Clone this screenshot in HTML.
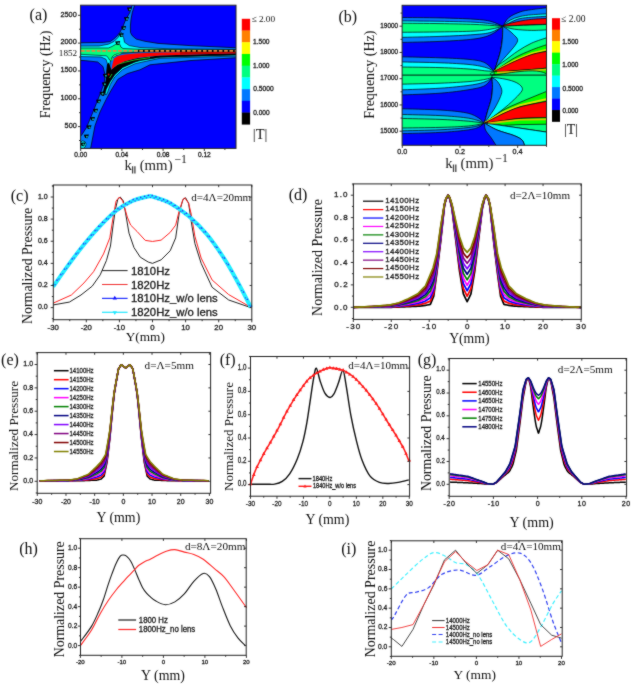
<!DOCTYPE html>
<html><head><meta charset="utf-8"><style>
html,body{margin:0;padding:0;background:#fff;width:633px;height:685px;overflow:hidden}
svg{display:block} text[font-family='Liberation Sans']{stroke:#222;stroke-width:0.3px}
</style></head><body><div id="w">
<svg xmlns="http://www.w3.org/2000/svg" width="633" height="685" viewBox="0 0 633 685">
<defs><filter id="bl" x="0" y="0" width="100%" height="100%" color-interpolation-filters="sRGB"><feConvolveMatrix order="3" kernelMatrix="1 2 1 2 20 2 1 2 1" divisor="32" edgeMode="duplicate"/></filter></defs>
<g filter="url(#bl)"><rect width="633" height="685" fill="#fff"/>
<path d="M53.2 304.95 L69.42 302.07 L81 294.99 L92.26 286.14 L100.2 274.86 L106.49 260.37 L110.46 246 L113.11 225.09 L115.43 209.17 L117.75 199.43 L120.23 197 L123.37 200.98 L125.69 213.92 L129 233.17 L133.96 247.54 L140.25 257.17 L148.2 262.03 L152.5 263.36 L161.11 259.82 L170.21 250.75 L175.67 237.92 L179.31 212.48 L182.95 199.54 L185.6 197.77 L188.58 203.19 L191.23 221.55 L194.87 243.45 L201.16 263.36 L212.08 287.25 L228.63 299.97 L250.81 307.6" stroke="#222" stroke-width="1.0" fill="none" stroke-linejoin="round" opacity="1"/>
<path d="M53.2 303.18 L71.41 294.99 L83.98 282.94 L93.58 271.66 L103.51 253.96 L109.8 237.92 L113.11 217.13 L116.09 200.98 L119.4 197 L122.71 200.98 L127.34 217.13 L130.65 225.09 L137.11 231.51 L145.22 240.36 L152.5 241.46 L161.11 240.13 L170.21 232.39 L175.67 225.09 L179.31 210.49 L182.95 199.54 L184.61 197.77 L188.58 203.19 L191.23 214.14 L194.87 236.15 L201.16 258.05 L212.08 279.95 L228.63 294.55 L250.81 307.27" stroke="#ff2020" stroke-width="1.0" fill="none" stroke-linejoin="round" opacity="1"/>
<path d="M53.2 286.59 C55.68 283.05 62.96 272.37 68.09 265.35 C73.23 258.33 78.63 251.03 83.98 244.45 C89.33 237.87 94.85 231.49 100.2 225.87 C105.55 220.24 110.74 214.86 116.09 210.71 C121.44 206.57 126.96 203.34 132.31 200.98 C137.66 198.62 144.83 197.28 148.2 196.56 C151.56 195.84 148.83 195.56 152.5 196.67 C156.17 197.77 164.2 199.97 170.21 203.19 C176.22 206.42 182.48 210.84 188.58 216.02 C194.67 221.2 200.72 226.97 206.78 234.27 C212.85 241.57 219.53 251.29 224.99 259.82 C230.45 268.36 235.25 277.57 239.55 285.48 C243.86 293.39 248.93 303.64 250.81 307.27" stroke="#20f0ff" stroke-width="4.0" fill="none" stroke-linejoin="round" opacity="1"/>
<path d="M53.2 284.19L54.28 286.11L52.12 286.11ZM57.01 278.76L58.09 280.68L55.93 280.68ZM60.81 273.33L61.89 275.25L59.73 275.25ZM64.62 267.91L65.7 269.83L63.54 269.83ZM68.43 262.52L69.51 264.44L67.35 264.44ZM72.23 257.51L73.31 259.43L71.15 259.43ZM76.04 252.5L77.12 254.42L74.96 254.42ZM79.85 247.49L80.93 249.41L78.77 249.41ZM83.65 242.48L84.73 244.4L82.57 244.4ZM87.46 238.07L88.54 239.99L86.38 239.99ZM91.26 233.71L92.34 235.63L90.18 235.63ZM95.07 229.34L96.15 231.26L93.99 231.26ZM98.88 224.98L99.96 226.9L97.8 226.9ZM102.68 221.1L103.76 223.02L101.6 223.02ZM106.49 217.47L107.57 219.39L105.41 219.39ZM110.3 213.84L111.38 215.76L109.22 215.76ZM114.1 210.21L115.18 212.13L113.02 212.13ZM117.91 207.22L118.99 209.14L116.83 209.14ZM121.72 204.94L122.8 206.86L120.64 206.86ZM125.52 202.65L126.6 204.57L124.44 204.57ZM129.33 200.37L130.41 202.29L128.25 202.29ZM133.14 198.35L134.22 200.27L132.06 200.27ZM136.94 197.29L138.02 199.21L135.86 199.21ZM140.75 196.23L141.83 198.15L139.67 198.15ZM144.56 195.17L145.64 197.09L143.48 197.09ZM148.36 194.16L149.44 196.08L147.28 196.08ZM152.17 194.26L153.25 196.18L151.09 196.18ZM155.98 195.55L157.06 197.47L154.9 197.47ZM159.78 196.95L160.86 198.87L158.7 198.87ZM163.59 198.35L164.67 200.27L162.51 200.27ZM167.39 199.76L168.47 201.68L166.31 201.68ZM171.2 201.49L172.28 203.41L170.12 203.41ZM175.01 204.15L176.09 206.07L173.93 206.07ZM178.81 206.8L179.89 208.72L177.73 208.72ZM182.62 209.46L183.7 211.38L181.54 211.38ZM186.43 212.12L187.51 214.04L185.35 214.04ZM190.23 215.28L191.31 217.2L189.15 217.2ZM194.04 219.1L195.12 221.02L192.96 221.02ZM197.85 222.91L198.93 224.83L196.77 224.83ZM201.65 226.73L202.73 228.65L200.57 228.65ZM205.46 230.54L206.54 232.46L204.38 232.46ZM209.27 235.36L210.35 237.28L208.19 237.28ZM213.07 240.7L214.15 242.62L211.99 242.62ZM216.88 246.04L217.96 247.96L215.8 247.96ZM220.69 251.38L221.77 253.3L219.61 253.3ZM224.49 256.72L225.57 258.64L223.41 258.64ZM228.3 263.25L229.38 265.17L227.22 265.17ZM232.11 269.96L233.19 271.88L231.03 271.88ZM235.91 276.67L236.99 278.59L234.83 278.59ZM239.72 283.4L240.8 285.32L238.64 285.32ZM243.52 290.77L244.6 292.69L242.44 292.69ZM247.33 298.14L248.41 300.06L246.25 300.06ZM251.14 304.87L252.22 306.79L250.06 306.79Z" fill="#2a2aff"/>
<path d="M55.19 285.7L56.13 284.02L54.24 284.02ZM58.99 280.28L59.94 278.6L58.05 278.6ZM62.8 274.85L63.74 273.17L61.85 273.17ZM66.61 269.42L67.55 267.74L65.66 267.74ZM70.41 264.25L71.36 262.57L69.47 262.57ZM74.22 259.24L75.16 257.56L73.27 257.56ZM78.02 254.24L78.97 252.56L77.08 252.56ZM81.83 249.23L82.78 247.55L80.89 247.55ZM85.64 244.5L86.58 242.82L84.69 242.82ZM89.44 240.14L90.39 238.46L88.5 238.46ZM93.25 235.78L94.2 234.1L92.31 234.1ZM97.06 231.42L98 229.74L96.11 229.74ZM100.86 227.19L101.81 225.51L99.92 225.51ZM104.67 223.56L105.62 221.88L103.73 221.88ZM108.48 219.92L109.42 218.24L107.53 218.24ZM112.28 216.29L113.23 214.61L111.34 214.61ZM116.09 212.66L117.03 210.98L115.14 210.98ZM119.9 210.38L120.84 208.7L118.95 208.7ZM123.7 208.1L124.65 206.42L122.76 206.42ZM127.51 205.81L128.45 204.13L126.56 204.13ZM131.32 203.53L132.26 201.85L130.37 201.85ZM135.12 202.15L136.07 200.47L134.18 200.47ZM138.93 201.09L139.87 199.41L137.98 199.41ZM142.74 200.03L143.68 198.35L141.79 198.35ZM146.54 198.97L147.49 197.29L145.6 197.29ZM150.35 198.56L151.29 196.88L149.4 196.88ZM154.15 199.23L155.1 197.55L153.21 197.55ZM157.96 200.63L158.91 198.95L157.02 198.95ZM161.77 202.03L162.71 200.35L160.82 200.35ZM165.57 203.44L166.52 201.76L164.63 201.76ZM169.38 204.84L170.33 203.16L168.44 203.16ZM173.19 207.22L174.13 205.54L172.24 205.54ZM176.99 209.88L177.94 208.2L176.05 208.2ZM180.8 212.54L181.75 210.86L179.86 210.86ZM184.61 215.2L185.55 213.52L183.66 213.52ZM188.41 217.86L189.36 216.18L187.47 216.18ZM192.22 221.62L193.16 219.94L191.27 219.94ZM196.03 225.44L196.97 223.76L195.08 223.76ZM199.83 229.25L200.78 227.57L198.89 227.57ZM203.64 233.07L204.58 231.39L202.69 231.39ZM207.45 237.15L208.39 235.47L206.5 235.47ZM211.25 242.49L212.2 240.81L210.31 240.81ZM215.06 247.84L216 246.16L214.11 246.16ZM218.87 253.18L219.81 251.5L217.92 251.5ZM222.67 258.52L223.62 256.84L221.73 256.84ZM226.48 264.4L227.42 262.72L225.53 262.72ZM230.28 271.1L231.23 269.42L229.34 269.42ZM234.09 277.81L235.04 276.13L233.15 276.13ZM237.9 284.51L238.84 282.83L236.95 282.83ZM241.7 291.6L242.65 289.92L240.76 289.92ZM245.51 298.96L246.46 297.28L244.57 297.28ZM249.32 306.33L250.26 304.65L248.37 304.65Z" fill="#3030ff" opacity="0.8"/>
<rect x="53.3" y="185" width="198.5" height="134.7" fill="none" stroke="#222" stroke-width="1"/>
<path d="M53.2 319.7v2.6M53.2 185v2.2M86.3 319.7v2.6M86.3 185v2.2M119.4 319.7v2.6M119.4 185v2.2M152.5 319.7v2.6M152.5 185v2.2M185.6 319.7v2.6M185.6 185v2.2M218.7 319.7v2.6M218.7 185v2.2M251.8 319.7v2.6M251.8 185v2.2M69.75 319.7v1.5M102.85 319.7v1.5M135.95 319.7v1.5M169.05 319.7v1.5M202.15 319.7v1.5M235.25 319.7v1.5M53.3 307.6h-2.6M251.8 307.6h-2.2M53.3 285.48h-2.6M251.8 285.48h-2.2M53.3 263.36h-2.6M251.8 263.36h-2.2M53.3 241.24h-2.6M251.8 241.24h-2.2M53.3 219.12h-2.6M251.8 219.12h-2.2M53.3 197h-2.6M251.8 197h-2.2M53.3 318.66h-1.5M53.3 296.54h-1.5M53.3 274.42h-1.5M53.3 252.3h-1.5M53.3 230.18h-1.5M53.3 208.06h-1.5M53.3 185.94h-1.5" stroke="#222" stroke-width="0.9" fill="none"/>
<text transform="translate(47.55 329.8) scale(1.05 1)" font-family="Liberation Sans" font-size="7.4" fill="#222">-30</text>
<text transform="translate(80.65 329.8) scale(1.05 1)" font-family="Liberation Sans" font-size="7.4" fill="#222">-20</text>
<text transform="translate(113.75 329.8) scale(1.05 1)" font-family="Liberation Sans" font-size="7.4" fill="#222">-10</text>
<text transform="translate(150.32 329.8) scale(1.05 1)" font-family="Liberation Sans" font-size="7.4" fill="#222">0</text>
<text transform="translate(181.13 329.8) scale(1.05 1)" font-family="Liberation Sans" font-size="7.4" fill="#222">10</text>
<text transform="translate(214.33 329.8) scale(1.05 1)" font-family="Liberation Sans" font-size="7.4" fill="#222">20</text>
<text transform="translate(247.47 329.8) scale(1.05 1)" font-family="Liberation Sans" font-size="7.4" fill="#222">30</text>
<text x="37.91" y="309.12" font-family="Liberation Sans" font-size="7.0" fill="#222">0.0</text>
<text x="38.02" y="287" font-family="Liberation Sans" font-size="7.0" fill="#222">0.2</text>
<text x="37.88" y="264.88" font-family="Liberation Sans" font-size="7.0" fill="#222">0.4</text>
<text x="37.95" y="242.75" font-family="Liberation Sans" font-size="7.0" fill="#222">0.6</text>
<text x="37.95" y="220.63" font-family="Liberation Sans" font-size="7.0" fill="#222">0.8</text>
<text x="37.91" y="198.51" font-family="Liberation Sans" font-size="7.0" fill="#222">1.0</text>
<text x="31.61" y="324.01" font-family="Liberation Serif" font-size="13.91" fill="#111" transform="rotate(-90 31.61 324.01)">Normalized Pressure</text>
<text x="125.67" y="340.55" font-family="Liberation Serif" font-size="13.32" fill="#111">Y(mm)</text>
<text x="10.72" y="201.04" font-family="Liberation Serif" font-size="16" fill="#111">(c)</text>
<text x="191.26" y="200.5" font-family="Liberation Serif" font-size="11.1" fill="#111">d=4Λ=20mm</text>
<path d="M102 270.6H127.6" stroke="#222" stroke-width="1"/>
<text x="131" y="274.6" font-family="Liberation Sans" font-size="11.3" text-anchor="start" fill="#111">1810Hz</text>
<path d="M102 284.5H127.6" stroke="#f03030" stroke-width="1"/>
<text x="131" y="288.5" font-family="Liberation Sans" font-size="11.3" text-anchor="start" fill="#111">1820Hz</text>
<path d="M102 298.4H127.6" stroke="#2030ff" stroke-width="1.2"/>
<path d="M114.8 295.7L116.96 299.54L112.64 299.54Z" fill="#1010ff"/>
<text x="131" y="302.4" font-family="Liberation Sans" font-size="11.3" text-anchor="start" fill="#111">1810Hz_w/o lens</text>
<path d="M102 312.3H127.6" stroke="#20e8ff" stroke-width="1.2"/>
<path d="M114.8 315L116.96 311.16L112.64 311.16Z" fill="#20e8ff"/>
<text x="131" y="316.3" font-family="Liberation Sans" font-size="11.3" text-anchor="start" fill="#111">1820Hz_w/o lens</text>
<path d="M353.3 307.3 L355.2 307.3 L357.1 307.3 L358.99 307.3 L360.89 307.3 L362.79 307.3 L364.69 307.3 L366.58 307.3 L368.48 307.3 L370.38 307.3 L372.28 307.3 L374.17 307.3 L376.07 307.3 L377.97 307.3 L379.87 307.3 L381.76 307.3 L383.66 307.3 L385.56 307.3 L387.45 307.3 L389.35 307.3 L391.25 307.3 L393.15 307.23 L395.05 307.17 L396.94 307.1 L398.84 307.03 L400.74 306.96 L402.63 306.9 L404.53 306.83 L406.43 306.76 L408.33 306.69 L410.23 306.63 L412.12 306.52 L414.02 306.4 L415.92 306.29 L417.81 306.18 L419.71 306.07 L421.61 305.95 L423.51 305.64 L425.41 305.32 L427.3 305 L429.2 304.69 L430.34 304.5 L431.1 302.63 L433 297.96 L433.75 296.09 L434.89 287.68 L436.79 273.67 L438.69 257.98 L440.59 242.28 L442.48 224.35 L444.38 206.41 L445.9 199.68 L446.28 198.94 L448.18 195.2 L449.69 198.56 L450.07 200.24 L451.97 208.65 L453.87 224.35 L455.76 240.04 L457.66 255.73 L459.56 271.43 L461.46 282.64 L463.36 293.85 L465.25 297.77 L467.15 301.69 L469.05 297.77 L470.94 293.85 L472.84 282.64 L474.74 271.43 L476.64 255.73 L478.53 240.04 L480.43 224.35 L482.33 208.65 L484.23 200.24 L484.61 198.56 L486.12 195.2 L488.02 198.94 L488.4 199.68 L489.92 206.41 L491.82 224.35 L493.72 242.28 L495.61 257.98 L497.51 273.67 L499.41 287.68 L500.55 296.09 L501.31 297.96 L503.2 302.63 L503.96 304.5 L505.1 304.69 L507 305 L508.89 305.32 L510.79 305.64 L512.69 305.95 L514.59 306.07 L516.49 306.18 L518.38 306.29 L520.28 306.4 L522.18 306.52 L524.08 306.63 L525.97 306.69 L527.87 306.76 L529.77 306.83 L531.66 306.9 L533.56 306.96 L535.46 307.03 L537.36 307.1 L539.25 307.17 L541.15 307.23 L543.05 307.3 L544.95 307.3 L546.85 307.3 L548.74 307.3 L550.64 307.3 L552.54 307.3 L554.43 307.3 L556.33 307.3 L558.23 307.3 L560.13 307.3 L562.02 307.3 L563.92 307.3 L565.82 307.3 L567.72 307.3 L569.62 307.3 L571.51 307.3 L573.41 307.3 L575.31 307.3 L577.21 307.3 L579.1 307.3 L581 307.3" stroke="#000000" stroke-width="1.7" fill="none" stroke-linejoin="round" opacity="1"/>
<path d="M353.3 307.3 L355.2 307.29 L357.1 307.28 L358.99 307.27 L360.89 307.26 L362.79 307.25 L364.69 307.24 L366.58 307.23 L368.48 307.22 L370.38 307.21 L372.28 307.2 L374.17 307.18 L376.07 307.17 L377.97 307.15 L379.87 307.13 L381.76 307.12 L383.66 307.1 L385.56 307.08 L387.45 307.07 L389.35 307.05 L391.25 307 L393.15 306.89 L395.05 306.78 L396.94 306.67 L398.84 306.56 L400.74 306.41 L402.63 306.26 L404.53 306.11 L406.43 305.96 L408.33 305.82 L410.23 305.65 L412.12 305.44 L414.02 305.23 L415.92 305.02 L417.81 304.81 L419.71 304.49 L421.61 304.17 L423.51 303.67 L425.41 303.17 L427.3 302.39 L429.2 301.61 L430.34 301.15 L431.1 299.29 L433 294.64 L433.75 292.65 L434.89 284.69 L436.79 271.43 L438.69 255.98 L440.59 240.54 L442.48 223.35 L444.38 206.16 L445.9 199.56 L446.28 198.83 L448.18 195.2 L449.69 198.44 L450.07 200.06 L451.97 208.15 L453.87 223.04 L455.76 237.92 L457.66 252.74 L459.56 267.57 L461.46 278.15 L463.36 288.74 L465.25 292.48 L467.15 296.21 L469.05 292.48 L470.94 288.74 L472.84 278.15 L474.74 267.57 L476.64 252.74 L478.53 237.92 L480.43 223.04 L482.33 208.15 L484.23 200.06 L484.61 198.44 L486.12 195.2 L488.02 198.83 L488.4 199.56 L489.92 206.16 L491.82 223.35 L493.72 240.54 L495.61 255.98 L497.51 271.43 L499.41 284.69 L500.55 292.65 L501.31 294.64 L503.2 299.29 L503.96 301.15 L505.1 301.61 L507 302.39 L508.89 303.17 L510.79 303.67 L512.69 304.17 L514.59 304.49 L516.49 304.81 L518.38 305.02 L520.28 305.23 L522.18 305.44 L524.08 305.65 L525.97 305.82 L527.87 305.96 L529.77 306.11 L531.66 306.26 L533.56 306.41 L535.46 306.56 L537.36 306.67 L539.25 306.78 L541.15 306.89 L543.05 307 L544.95 307.05 L546.85 307.07 L548.74 307.08 L550.64 307.1 L552.54 307.12 L554.43 307.13 L556.33 307.15 L558.23 307.17 L560.13 307.18 L562.02 307.2 L563.92 307.21 L565.82 307.22 L567.72 307.23 L569.62 307.24 L571.51 307.25 L573.41 307.26 L575.31 307.27 L577.21 307.28 L579.1 307.29 L581 307.3" stroke="#ff0000" stroke-width="1.7" fill="none" stroke-linejoin="round" opacity="1"/>
<path d="M353.3 307.3 L355.2 307.28 L357.1 307.26 L358.99 307.24 L360.89 307.22 L362.79 307.2 L364.69 307.18 L366.58 307.16 L368.48 307.14 L370.38 307.12 L372.28 307.1 L374.17 307.07 L376.07 307.03 L377.97 307 L379.87 306.97 L381.76 306.93 L383.66 306.9 L385.56 306.87 L387.45 306.83 L389.35 306.8 L391.25 306.7 L393.15 306.55 L395.05 306.4 L396.94 306.25 L398.84 306.09 L400.74 305.86 L402.63 305.63 L404.53 305.4 L406.43 305.17 L408.33 304.94 L410.23 304.66 L412.12 304.36 L414.02 304.05 L415.92 303.75 L417.81 303.44 L419.71 302.92 L421.61 302.39 L423.51 301.71 L425.41 301.03 L427.3 299.78 L429.2 298.54 L430.34 297.8 L431.1 295.94 L433 291.32 L433.75 289.21 L434.89 281.7 L436.79 269.19 L438.69 253.99 L440.59 238.79 L442.48 222.35 L444.38 205.91 L445.9 199.43 L446.28 198.73 L448.18 195.2 L449.69 198.31 L450.07 199.87 L451.97 207.66 L453.87 221.73 L455.76 235.81 L457.66 249.76 L459.56 263.71 L461.46 273.67 L463.36 283.63 L465.25 287.18 L467.15 290.73 L469.05 287.18 L470.94 283.63 L472.84 273.67 L474.74 263.71 L476.64 249.76 L478.53 235.81 L480.43 221.73 L482.33 207.66 L484.23 199.87 L484.61 198.31 L486.12 195.2 L488.02 198.73 L488.4 199.43 L489.92 205.91 L491.82 222.35 L493.72 238.79 L495.61 253.99 L497.51 269.19 L499.41 281.7 L500.55 289.21 L501.31 291.32 L503.2 295.94 L503.96 297.8 L505.1 298.54 L507 299.78 L508.89 301.03 L510.79 301.71 L512.69 302.39 L514.59 302.92 L516.49 303.44 L518.38 303.75 L520.28 304.05 L522.18 304.36 L524.08 304.66 L525.97 304.94 L527.87 305.17 L529.77 305.4 L531.66 305.63 L533.56 305.86 L535.46 306.09 L537.36 306.25 L539.25 306.4 L541.15 306.55 L543.05 306.7 L544.95 306.8 L546.85 306.83 L548.74 306.87 L550.64 306.9 L552.54 306.93 L554.43 306.97 L556.33 307 L558.23 307.03 L560.13 307.07 L562.02 307.1 L563.92 307.12 L565.82 307.14 L567.72 307.16 L569.62 307.18 L571.51 307.2 L573.41 307.22 L575.31 307.24 L577.21 307.26 L579.1 307.28 L581 307.3" stroke="#0000ff" stroke-width="1.7" fill="none" stroke-linejoin="round" opacity="1"/>
<path d="M353.3 307.3 L355.2 307.27 L357.1 307.24 L358.99 307.21 L360.89 307.18 L362.79 307.15 L364.69 307.12 L366.58 307.09 L368.48 307.06 L370.38 307.03 L372.28 307 L374.17 306.95 L376.07 306.9 L377.97 306.85 L379.87 306.8 L381.76 306.75 L383.66 306.7 L385.56 306.65 L387.45 306.6 L389.35 306.55 L391.25 306.4 L393.15 306.21 L395.05 306.01 L396.94 305.82 L398.84 305.63 L400.74 305.31 L402.63 305 L404.53 304.68 L406.43 304.37 L408.33 304.06 L410.23 303.68 L412.12 303.28 L414.02 302.88 L415.92 302.47 L417.81 302.07 L419.71 301.34 L421.61 300.61 L423.51 299.75 L425.41 298.88 L427.3 297.18 L429.2 295.47 L430.34 294.45 L431.1 292.6 L433 287.99 L433.75 285.78 L434.89 278.71 L436.79 266.94 L438.69 252 L440.59 237.05 L442.48 221.36 L444.38 205.66 L445.9 199.31 L446.28 198.63 L448.18 195.2 L449.69 198.19 L450.07 199.68 L451.97 207.16 L453.87 220.42 L455.76 233.69 L457.66 246.77 L459.56 259.84 L461.46 269.19 L463.36 278.53 L465.25 281.89 L467.15 285.25 L469.05 281.89 L470.94 278.53 L472.84 269.19 L474.74 259.84 L476.64 246.77 L478.53 233.69 L480.43 220.42 L482.33 207.16 L484.23 199.68 L484.61 198.19 L486.12 195.2 L488.02 198.63 L488.4 199.31 L489.92 205.66 L491.82 221.36 L493.72 237.05 L495.61 252 L497.51 266.94 L499.41 278.71 L500.55 285.78 L501.31 287.99 L503.2 292.6 L503.96 294.45 L505.1 295.47 L507 297.18 L508.89 298.88 L510.79 299.75 L512.69 300.61 L514.59 301.34 L516.49 302.07 L518.38 302.47 L520.28 302.88 L522.18 303.28 L524.08 303.68 L525.97 304.06 L527.87 304.37 L529.77 304.68 L531.66 305 L533.56 305.31 L535.46 305.63 L537.36 305.82 L539.25 306.01 L541.15 306.21 L543.05 306.4 L544.95 306.55 L546.85 306.6 L548.74 306.65 L550.64 306.7 L552.54 306.75 L554.43 306.8 L556.33 306.85 L558.23 306.9 L560.13 306.95 L562.02 307 L563.92 307.03 L565.82 307.06 L567.72 307.09 L569.62 307.12 L571.51 307.15 L573.41 307.18 L575.31 307.21 L577.21 307.24 L579.1 307.27 L581 307.3" stroke="#ff00ff" stroke-width="1.7" fill="none" stroke-linejoin="round" opacity="1"/>
<path d="M353.3 307.3 L355.2 307.26 L357.1 307.22 L358.99 307.18 L360.89 307.14 L362.79 307.1 L364.69 307.06 L366.58 307.02 L368.48 306.98 L370.38 306.94 L372.28 306.9 L374.17 306.83 L376.07 306.77 L377.97 306.7 L379.87 306.64 L381.76 306.57 L383.66 306.5 L385.56 306.44 L387.45 306.37 L389.35 306.3 L391.25 306.1 L393.15 305.87 L395.05 305.63 L396.94 305.39 L398.84 305.16 L400.74 304.76 L402.63 304.37 L404.53 303.97 L406.43 303.57 L408.33 303.18 L410.23 302.7 L412.12 302.2 L414.02 301.7 L415.92 301.2 L417.81 300.7 L419.71 299.76 L421.61 298.83 L423.51 297.78 L425.41 296.73 L427.3 294.57 L429.2 292.4 L430.34 291.1 L431.1 289.26 L433 284.67 L433.75 282.34 L434.89 275.73 L436.79 264.7 L438.69 250 L440.59 235.31 L442.48 220.36 L444.38 205.41 L445.9 199.19 L446.28 198.52 L448.18 195.2 L449.69 198.06 L450.07 199.5 L451.97 206.66 L453.87 219.11 L455.76 231.57 L457.66 243.78 L459.56 255.98 L461.46 264.7 L463.36 273.42 L465.25 276.6 L467.15 279.77 L469.05 276.6 L470.94 273.42 L472.84 264.7 L474.74 255.98 L476.64 243.78 L478.53 231.57 L480.43 219.11 L482.33 206.66 L484.23 199.5 L484.61 198.06 L486.12 195.2 L488.02 198.52 L488.4 199.19 L489.92 205.41 L491.82 220.36 L493.72 235.31 L495.61 250 L497.51 264.7 L499.41 275.73 L500.55 282.34 L501.31 284.67 L503.2 289.26 L503.96 291.1 L505.1 292.4 L507 294.57 L508.89 296.73 L510.79 297.78 L512.69 298.83 L514.59 299.76 L516.49 300.7 L518.38 301.2 L520.28 301.7 L522.18 302.2 L524.08 302.7 L525.97 303.18 L527.87 303.57 L529.77 303.97 L531.66 304.37 L533.56 304.76 L535.46 305.16 L537.36 305.39 L539.25 305.63 L541.15 305.87 L543.05 306.1 L544.95 306.3 L546.85 306.37 L548.74 306.44 L550.64 306.5 L552.54 306.57 L554.43 306.64 L556.33 306.7 L558.23 306.77 L560.13 306.83 L562.02 306.9 L563.92 306.94 L565.82 306.98 L567.72 307.02 L569.62 307.06 L571.51 307.1 L573.41 307.14 L575.31 307.18 L577.21 307.22 L579.1 307.26 L581 307.3" stroke="#008000" stroke-width="1.7" fill="none" stroke-linejoin="round" opacity="1"/>
<path d="M353.3 307.3 L355.2 307.25 L357.1 307.2 L358.99 307.15 L360.89 307.1 L362.79 307.05 L364.69 307 L366.58 306.95 L368.48 306.9 L370.38 306.85 L372.28 306.8 L374.17 306.72 L376.07 306.64 L377.97 306.55 L379.87 306.47 L381.76 306.39 L383.66 306.3 L385.56 306.22 L387.45 306.14 L389.35 306.05 L391.25 305.81 L393.15 305.53 L395.05 305.25 L396.94 304.97 L398.84 304.69 L400.74 304.21 L402.63 303.73 L404.53 303.25 L406.43 302.78 L408.33 302.3 L410.23 301.72 L412.12 301.12 L414.02 300.52 L415.92 299.93 L417.81 299.33 L419.71 298.19 L421.61 297.05 L423.51 295.82 L425.41 294.59 L427.3 291.96 L429.2 289.32 L430.34 287.74 L431.1 285.92 L433 281.35 L433.75 278.9 L434.89 272.74 L436.79 262.46 L438.69 248.01 L440.59 233.56 L442.48 219.36 L444.38 205.16 L445.9 199.06 L446.28 198.42 L448.18 195.2 L449.69 197.94 L450.07 199.31 L451.97 206.16 L453.87 217.81 L455.76 229.45 L457.66 240.79 L459.56 252.12 L461.46 260.22 L463.36 268.31 L465.25 271.3 L467.15 274.29 L469.05 271.3 L470.94 268.31 L472.84 260.22 L474.74 252.12 L476.64 240.79 L478.53 229.45 L480.43 217.81 L482.33 206.16 L484.23 199.31 L484.61 197.94 L486.12 195.2 L488.02 198.42 L488.4 199.06 L489.92 205.16 L491.82 219.36 L493.72 233.56 L495.61 248.01 L497.51 262.46 L499.41 272.74 L500.55 278.9 L501.31 281.35 L503.2 285.92 L503.96 287.74 L505.1 289.32 L507 291.96 L508.89 294.59 L510.79 295.82 L512.69 297.05 L514.59 298.19 L516.49 299.33 L518.38 299.93 L520.28 300.52 L522.18 301.12 L524.08 301.72 L525.97 302.3 L527.87 302.78 L529.77 303.25 L531.66 303.73 L533.56 304.21 L535.46 304.69 L537.36 304.97 L539.25 305.25 L541.15 305.53 L543.05 305.81 L544.95 306.05 L546.85 306.14 L548.74 306.22 L550.64 306.3 L552.54 306.39 L554.43 306.47 L556.33 306.55 L558.23 306.64 L560.13 306.72 L562.02 306.8 L563.92 306.85 L565.82 306.9 L567.72 306.95 L569.62 307 L571.51 307.05 L573.41 307.1 L575.31 307.15 L577.21 307.2 L579.1 307.25 L581 307.3" stroke="#000080" stroke-width="1.7" fill="none" stroke-linejoin="round" opacity="1"/>
<path d="M353.3 307.3 L355.2 307.24 L357.1 307.18 L358.99 307.12 L360.89 307.06 L362.79 307 L364.69 306.94 L366.58 306.88 L368.48 306.82 L370.38 306.76 L372.28 306.7 L374.17 306.6 L376.07 306.5 L377.97 306.4 L379.87 306.3 L381.76 306.2 L383.66 306.1 L385.56 306 L387.45 305.9 L389.35 305.81 L391.25 305.51 L393.15 305.19 L395.05 304.86 L396.94 304.54 L398.84 304.22 L400.74 303.66 L402.63 303.1 L404.53 302.54 L406.43 301.98 L408.33 301.42 L410.23 300.74 L412.12 300.04 L414.02 299.35 L415.92 298.65 L417.81 297.96 L419.71 296.61 L421.61 295.27 L423.51 293.85 L425.41 292.44 L427.3 289.35 L429.2 286.25 L430.34 284.39 L431.1 282.58 L433 278.03 L433.75 275.46 L434.89 269.75 L436.79 260.22 L438.69 246.02 L440.59 231.82 L442.48 218.37 L444.38 204.92 L445.9 198.94 L446.28 198.31 L448.18 195.2 L449.69 197.82 L450.07 199.12 L451.97 205.66 L453.87 216.5 L455.76 227.34 L457.66 237.8 L459.56 248.26 L461.46 255.73 L463.36 263.21 L465.25 266.01 L467.15 268.81 L469.05 266.01 L470.94 263.21 L472.84 255.73 L474.74 248.26 L476.64 237.8 L478.53 227.34 L480.43 216.5 L482.33 205.66 L484.23 199.12 L484.61 197.82 L486.12 195.2 L488.02 198.31 L488.4 198.94 L489.92 204.92 L491.82 218.37 L493.72 231.82 L495.61 246.02 L497.51 260.22 L499.41 269.75 L500.55 275.46 L501.31 278.03 L503.2 282.58 L503.96 284.39 L505.1 286.25 L507 289.35 L508.89 292.44 L510.79 293.85 L512.69 295.27 L514.59 296.61 L516.49 297.96 L518.38 298.65 L520.28 299.35 L522.18 300.04 L524.08 300.74 L525.97 301.42 L527.87 301.98 L529.77 302.54 L531.66 303.1 L533.56 303.66 L535.46 304.22 L537.36 304.54 L539.25 304.86 L541.15 305.19 L543.05 305.51 L544.95 305.81 L546.85 305.9 L548.74 306 L550.64 306.1 L552.54 306.2 L554.43 306.3 L556.33 306.4 L558.23 306.5 L560.13 306.6 L562.02 306.7 L563.92 306.76 L565.82 306.82 L567.72 306.88 L569.62 306.94 L571.51 307 L573.41 307.06 L575.31 307.12 L577.21 307.18 L579.1 307.24 L581 307.3" stroke="#8000ff" stroke-width="1.7" fill="none" stroke-linejoin="round" opacity="1"/>
<path d="M353.3 307.3 L355.2 307.23 L357.1 307.16 L358.99 307.09 L360.89 307.02 L362.79 306.95 L364.69 306.88 L366.58 306.81 L368.48 306.74 L370.38 306.67 L372.28 306.6 L374.17 306.49 L376.07 306.37 L377.97 306.25 L379.87 306.14 L381.76 306.02 L383.66 305.9 L385.56 305.79 L387.45 305.67 L389.35 305.56 L391.25 305.21 L393.15 304.84 L395.05 304.48 L396.94 304.12 L398.84 303.75 L400.74 303.11 L402.63 302.47 L404.53 301.82 L406.43 301.18 L408.33 300.54 L410.23 299.76 L412.12 298.96 L414.02 298.17 L415.92 297.38 L417.81 296.59 L419.71 295.04 L421.61 293.49 L423.51 291.89 L425.41 290.29 L427.3 286.74 L429.2 283.18 L430.34 281.04 L431.1 279.23 L433 274.71 L433.75 272.03 L434.89 266.76 L436.79 257.98 L438.69 244.03 L440.59 230.08 L442.48 217.37 L444.38 204.67 L445.9 198.81 L446.28 198.21 L448.18 195.2 L449.69 197.69 L450.07 198.94 L451.97 205.16 L453.87 215.19 L455.76 225.22 L457.66 234.81 L459.56 244.4 L461.46 251.25 L463.36 258.1 L465.25 260.72 L467.15 263.33 L469.05 260.72 L470.94 258.1 L472.84 251.25 L474.74 244.4 L476.64 234.81 L478.53 225.22 L480.43 215.19 L482.33 205.16 L484.23 198.94 L484.61 197.69 L486.12 195.2 L488.02 198.21 L488.4 198.81 L489.92 204.67 L491.82 217.37 L493.72 230.08 L495.61 244.03 L497.51 257.98 L499.41 266.76 L500.55 272.03 L501.31 274.71 L503.2 279.23 L503.96 281.04 L505.1 283.18 L507 286.74 L508.89 290.29 L510.79 291.89 L512.69 293.49 L514.59 295.04 L516.49 296.59 L518.38 297.38 L520.28 298.17 L522.18 298.96 L524.08 299.76 L525.97 300.54 L527.87 301.18 L529.77 301.82 L531.66 302.47 L533.56 303.11 L535.46 303.75 L537.36 304.12 L539.25 304.48 L541.15 304.84 L543.05 305.21 L544.95 305.56 L546.85 305.67 L548.74 305.79 L550.64 305.9 L552.54 306.02 L554.43 306.14 L556.33 306.25 L558.23 306.37 L560.13 306.49 L562.02 306.6 L563.92 306.67 L565.82 306.74 L567.72 306.81 L569.62 306.88 L571.51 306.95 L573.41 307.02 L575.31 307.09 L577.21 307.16 L579.1 307.23 L581 307.3" stroke="#800080" stroke-width="1.7" fill="none" stroke-linejoin="round" opacity="1"/>
<path d="M353.3 307.3 L355.2 307.22 L357.1 307.14 L358.99 307.06 L360.89 306.98 L362.79 306.9 L364.69 306.82 L366.58 306.74 L368.48 306.66 L370.38 306.58 L372.28 306.5 L374.17 306.37 L376.07 306.24 L377.97 306.1 L379.87 305.97 L381.76 305.84 L383.66 305.71 L385.56 305.57 L387.45 305.44 L389.35 305.31 L391.25 304.91 L393.15 304.5 L395.05 304.1 L396.94 303.69 L398.84 303.28 L400.74 302.56 L402.63 301.83 L404.53 301.11 L406.43 300.38 L408.33 299.66 L410.23 298.78 L412.12 297.89 L414.02 297 L415.92 296.11 L417.81 295.22 L419.71 293.46 L421.61 291.71 L423.51 289.93 L425.41 288.15 L427.3 284.13 L429.2 280.11 L430.34 277.69 L431.1 275.89 L433 271.39 L433.75 268.59 L434.89 263.77 L436.79 255.73 L438.69 242.03 L440.59 228.33 L442.48 216.37 L444.38 204.42 L445.9 198.69 L446.28 198.11 L448.18 195.2 L449.69 197.57 L450.07 198.75 L451.97 204.67 L453.87 213.88 L455.76 223.1 L457.66 231.82 L459.56 240.54 L461.46 246.77 L463.36 252.99 L465.25 255.42 L467.15 257.85 L469.05 255.42 L470.94 252.99 L472.84 246.77 L474.74 240.54 L476.64 231.82 L478.53 223.1 L480.43 213.88 L482.33 204.67 L484.23 198.75 L484.61 197.57 L486.12 195.2 L488.02 198.11 L488.4 198.69 L489.92 204.42 L491.82 216.37 L493.72 228.33 L495.61 242.03 L497.51 255.73 L499.41 263.77 L500.55 268.59 L501.31 271.39 L503.2 275.89 L503.96 277.69 L505.1 280.11 L507 284.13 L508.89 288.15 L510.79 289.93 L512.69 291.71 L514.59 293.46 L516.49 295.22 L518.38 296.11 L520.28 297 L522.18 297.89 L524.08 298.78 L525.97 299.66 L527.87 300.38 L529.77 301.11 L531.66 301.83 L533.56 302.56 L535.46 303.28 L537.36 303.69 L539.25 304.1 L541.15 304.5 L543.05 304.91 L544.95 305.31 L546.85 305.44 L548.74 305.57 L550.64 305.71 L552.54 305.84 L554.43 305.97 L556.33 306.1 L558.23 306.24 L560.13 306.37 L562.02 306.5 L563.92 306.58 L565.82 306.66 L567.72 306.74 L569.62 306.82 L571.51 306.9 L573.41 306.98 L575.31 307.06 L577.21 307.14 L579.1 307.22 L581 307.3" stroke="#800000" stroke-width="1.7" fill="none" stroke-linejoin="round" opacity="1"/>
<path d="M353.3 307.3 L355.2 307.21 L357.1 307.12 L358.99 307.03 L360.89 306.94 L362.79 306.85 L364.69 306.76 L366.58 306.67 L368.48 306.58 L370.38 306.49 L372.28 306.4 L374.17 306.25 L376.07 306.1 L377.97 305.95 L379.87 305.81 L381.76 305.66 L383.66 305.51 L385.56 305.36 L387.45 305.21 L389.35 305.06 L391.25 304.61 L393.15 304.16 L395.05 303.71 L396.94 303.26 L398.84 302.82 L400.74 302.01 L402.63 301.2 L404.53 300.39 L406.43 299.59 L408.33 298.78 L410.23 297.79 L412.12 296.81 L414.02 295.82 L415.92 294.83 L417.81 293.85 L419.71 291.89 L421.61 289.92 L423.51 287.96 L425.41 286 L427.3 281.52 L429.2 277.03 L430.34 274.34 L431.1 272.55 L433 268.06 L433.75 265.15 L434.89 260.78 L436.79 253.49 L438.69 240.04 L440.59 226.59 L442.48 215.38 L444.38 204.17 L445.9 198.56 L446.28 198 L448.18 195.2 L449.69 197.44 L450.07 198.56 L451.97 204.17 L453.87 212.58 L455.76 220.98 L457.66 228.83 L459.56 236.68 L461.46 242.28 L463.36 247.89 L465.25 250.13 L467.15 252.37 L469.05 250.13 L470.94 247.89 L472.84 242.28 L474.74 236.68 L476.64 228.83 L478.53 220.98 L480.43 212.58 L482.33 204.17 L484.23 198.56 L484.61 197.44 L486.12 195.2 L488.02 198 L488.4 198.56 L489.92 204.17 L491.82 215.38 L493.72 226.59 L495.61 240.04 L497.51 253.49 L499.41 260.78 L500.55 265.15 L501.31 268.06 L503.2 272.55 L503.96 274.34 L505.1 277.03 L507 281.52 L508.89 286 L510.79 287.96 L512.69 289.92 L514.59 291.89 L516.49 293.85 L518.38 294.83 L520.28 295.82 L522.18 296.81 L524.08 297.79 L525.97 298.78 L527.87 299.59 L529.77 300.39 L531.66 301.2 L533.56 302.01 L535.46 302.82 L537.36 303.26 L539.25 303.71 L541.15 304.16 L543.05 304.61 L544.95 305.06 L546.85 305.21 L548.74 305.36 L550.64 305.51 L552.54 305.66 L554.43 305.81 L556.33 305.95 L558.23 306.1 L560.13 306.25 L562.02 306.4 L563.92 306.49 L565.82 306.58 L567.72 306.67 L569.62 306.76 L571.51 306.85 L573.41 306.94 L575.31 307.03 L577.21 307.12 L579.1 307.21 L581 307.3" stroke="#808000" stroke-width="1.7" fill="none" stroke-linejoin="round" opacity="1"/>
<rect x="353.4" y="183.9" width="227.9" height="135.5" fill="none" stroke="#222" stroke-width="1"/>
<path d="M353.3 319.4v2.6M353.3 183.9v2.2M391.25 319.4v2.6M391.25 183.9v2.2M429.2 319.4v2.6M429.2 183.9v2.2M467.15 319.4v2.6M467.15 183.9v2.2M505.1 319.4v2.6M505.1 183.9v2.2M543.05 319.4v2.6M543.05 183.9v2.2M581 319.4v2.6M581 183.9v2.2M372.28 319.4v1.5M410.23 319.4v1.5M448.18 319.4v1.5M486.12 319.4v1.5M524.08 319.4v1.5M562.02 319.4v1.5M353.4 307.3h-2.6M581.3 307.3h-2.2M353.4 284.88h-2.6M581.3 284.88h-2.2M353.4 262.46h-2.6M581.3 262.46h-2.2M353.4 240.04h-2.6M581.3 240.04h-2.2M353.4 217.62h-2.6M581.3 217.62h-2.2M353.4 195.2h-2.6M581.3 195.2h-2.2M353.4 318.51h-1.5M353.4 296.09h-1.5M353.4 273.67h-1.5M353.4 251.25h-1.5M353.4 228.83h-1.5M353.4 206.41h-1.5M353.4 183.99h-1.5" stroke="#222" stroke-width="0.9" fill="none"/>
<text x="346.28" y="329.26" font-family="Liberation Sans" font-size="8" fill="#222" letter-spacing="1.2">-30</text>
<text x="384.23" y="329.26" font-family="Liberation Sans" font-size="8" fill="#222" letter-spacing="1.2">-20</text>
<text x="422.18" y="329.26" font-family="Liberation Sans" font-size="8" fill="#222" letter-spacing="1.2">-10</text>
<text x="464.91" y="329.26" font-family="Liberation Sans" font-size="8" fill="#222" letter-spacing="1.2">0</text>
<text x="499.9" y="329.26" font-family="Liberation Sans" font-size="8" fill="#222" letter-spacing="1.2">10</text>
<text x="537.95" y="329.26" font-family="Liberation Sans" font-size="8" fill="#222" letter-spacing="1.2">20</text>
<text x="575.94" y="329.26" font-family="Liberation Sans" font-size="8" fill="#222" letter-spacing="1.2">30</text>
<text x="334.06" y="309.51" font-family="Liberation Sans" font-size="8" fill="#222" letter-spacing="1.2">0.0</text>
<text x="334.18" y="287.09" font-family="Liberation Sans" font-size="8" fill="#222" letter-spacing="1.2">0.2</text>
<text x="334.02" y="264.67" font-family="Liberation Sans" font-size="8" fill="#222" letter-spacing="1.2">0.4</text>
<text x="334.1" y="242.25" font-family="Liberation Sans" font-size="8" fill="#222" letter-spacing="1.2">0.6</text>
<text x="334.1" y="219.83" font-family="Liberation Sans" font-size="8" fill="#222" letter-spacing="1.2">0.8</text>
<text x="334.06" y="197.41" font-family="Liberation Sans" font-size="8" fill="#222" letter-spacing="1.2">1.0</text>
<text x="321.63" y="315.91" font-family="Liberation Serif" font-size="13.97" fill="#111" transform="rotate(-90 321.63 315.91)">Normalized Pressure</text>
<text x="449.17" y="342.74" font-family="Liberation Serif" font-size="13.7" fill="#111">Y(mm)</text>
<text x="288.79" y="200.39" font-family="Liberation Serif" font-size="16" fill="#111">(d)</text>
<text x="510.06" y="198.7" font-family="Liberation Serif" font-size="11.1" fill="#111">d=2Λ=10mm</text>
<path d="M363 201.2H383.3" stroke="#000000" stroke-width="1.2"/>
<text x="385.18" y="203.03" font-family="Liberation Sans" font-size="7.9" fill="#222" letter-spacing="0.4">14100Hz</text>
<path d="M363 209.62H383.3" stroke="#ff0000" stroke-width="1.2"/>
<text x="385.18" y="211.45" font-family="Liberation Sans" font-size="7.9" fill="#222" letter-spacing="0.4">14150Hz</text>
<path d="M363 218.04H383.3" stroke="#0000ff" stroke-width="1.2"/>
<text x="385.18" y="219.87" font-family="Liberation Sans" font-size="7.9" fill="#222" letter-spacing="0.4">14200Hz</text>
<path d="M363 226.46H383.3" stroke="#ff00ff" stroke-width="1.2"/>
<text x="385.18" y="228.29" font-family="Liberation Sans" font-size="7.9" fill="#222" letter-spacing="0.4">14250Hz</text>
<path d="M363 234.88H383.3" stroke="#008000" stroke-width="1.2"/>
<text x="385.18" y="236.71" font-family="Liberation Sans" font-size="7.9" fill="#222" letter-spacing="0.4">14300Hz</text>
<path d="M363 243.3H383.3" stroke="#000080" stroke-width="1.2"/>
<text x="385.18" y="245.13" font-family="Liberation Sans" font-size="7.9" fill="#222" letter-spacing="0.4">14350Hz</text>
<path d="M363 251.72H383.3" stroke="#8000ff" stroke-width="1.2"/>
<text x="385.18" y="253.55" font-family="Liberation Sans" font-size="7.9" fill="#222" letter-spacing="0.4">14400Hz</text>
<path d="M363 260.14H383.3" stroke="#800080" stroke-width="1.2"/>
<text x="385.18" y="261.97" font-family="Liberation Sans" font-size="7.9" fill="#222" letter-spacing="0.4">14450Hz</text>
<path d="M363 268.56H383.3" stroke="#800000" stroke-width="1.2"/>
<text x="385.18" y="270.39" font-family="Liberation Sans" font-size="7.9" fill="#222" letter-spacing="0.4">14500Hz</text>
<path d="M363 276.98H383.3" stroke="#808000" stroke-width="1.2"/>
<text x="385.18" y="278.81" font-family="Liberation Sans" font-size="7.9" fill="#222" letter-spacing="0.4">14550Hz</text>
<path d="M39.59 480.95 L41.03 480.94 L42.46 480.93 L43.9 480.93 L45.33 480.92 L46.77 480.91 L48.2 480.9 L49.63 480.9 L51.07 480.89 L52.5 480.88 L53.94 480.87 L55.37 480.86 L56.8 480.86 L58.24 480.85 L59.67 480.84 L61.11 480.83 L62.54 480.83 L63.98 480.82 L65.41 480.81 L66.84 480.8 L68.28 480.79 L69.71 480.79 L71.15 480.78 L72.58 480.77 L74.01 480.76 L75.45 480.75 L76.88 480.75 L78.32 480.74 L79.75 480.73 L81.19 480.72 L82.62 480.72 L84.05 480.66 L85.49 480.6 L86.92 480.54 L88.36 480.48 L89.79 480.42 L91.22 480.37 L92.66 480.31 L94.09 480.25 L95.53 480.19 L96.96 480.13 L98.4 479.74 L99.83 479.35 L101.26 478.96 L102.7 477.56 L104.13 476.16 L105.57 469.39 L107 462.61 L108.43 450.93 L109.87 438.55 L111.3 423.37 L112.74 408.18 L114.17 394.28 L115.61 385.52 L117.04 377.2 L118.47 369.17 L119.91 366.58 L121.34 364.72 L122.78 365.81 L124.21 366.91 L125.64 368 L127.08 366.91 L128.51 365.81 L129.95 364.72 L131.38 366.58 L132.82 369.17 L134.25 377.2 L135.68 385.52 L137.12 394.28 L138.55 408.18 L139.99 423.37 L141.42 438.55 L142.85 450.93 L144.29 462.61 L145.72 469.39 L147.16 476.16 L148.59 477.56 L150.03 478.96 L151.46 479.35 L152.89 479.74 L154.33 480.13 L155.76 480.19 L157.2 480.25 L158.63 480.31 L160.06 480.37 L161.5 480.42 L162.93 480.48 L164.37 480.54 L165.8 480.6 L167.24 480.66 L168.67 480.72 L170.1 480.72 L171.54 480.73 L172.97 480.74 L174.41 480.75 L175.84 480.75 L177.27 480.76 L178.71 480.77 L180.14 480.78 L181.58 480.79 L183.01 480.79 L184.45 480.8 L185.88 480.81 L187.31 480.82 L188.75 480.83 L190.18 480.83 L191.62 480.84 L193.05 480.85 L194.48 480.86 L195.92 480.86 L197.35 480.87 L198.79 480.88 L200.22 480.89 L201.66 480.9 L203.09 480.9 L204.52 480.91 L205.96 480.92 L207.39 480.93 L208.83 480.93" stroke="#000000" stroke-width="1.5" fill="none" stroke-linejoin="round" opacity="1"/>
<path d="M39.59 480.92 L41.03 480.91 L42.46 480.9 L43.9 480.89 L45.33 480.88 L46.77 480.87 L48.2 480.86 L49.63 480.85 L51.07 480.84 L52.5 480.83 L53.94 480.82 L55.37 480.81 L56.8 480.8 L58.24 480.79 L59.67 480.78 L61.11 480.77 L62.54 480.76 L63.98 480.75 L65.41 480.74 L66.84 480.73 L68.28 480.72 L69.71 480.69 L71.15 480.66 L72.58 480.63 L74.01 480.61 L75.45 480.58 L76.88 480.55 L78.32 480.48 L79.75 480.41 L81.19 480.33 L82.62 480.26 L84.05 480.14 L85.49 480.03 L86.92 479.91 L88.36 479.79 L89.79 479.59 L91.22 479.39 L92.66 479.18 L94.09 478.98 L95.53 478.78 L96.96 478.57 L98.4 478.06 L99.83 477.54 L101.26 477.02 L102.7 475.51 L104.13 474.01 L105.57 467.73 L107 460.82 L108.43 449.56 L109.87 437.56 L111.3 422.64 L112.74 407.72 L114.17 394.04 L115.61 385.36 L117.04 377.12 L118.47 369.17 L119.91 366.58 L121.34 364.72 L122.78 365.81 L124.21 366.91 L125.64 368 L127.08 366.91 L128.51 365.81 L129.95 364.72 L131.38 366.58 L132.82 369.17 L134.25 377.12 L135.68 385.36 L137.12 394.04 L138.55 407.72 L139.99 422.64 L141.42 437.56 L142.85 449.56 L144.29 460.82 L145.72 467.73 L147.16 474.01 L148.59 475.51 L150.03 477.02 L151.46 477.54 L152.89 478.06 L154.33 478.57 L155.76 478.78 L157.2 478.98 L158.63 479.18 L160.06 479.39 L161.5 479.59 L162.93 479.79 L164.37 479.91 L165.8 480.03 L167.24 480.14 L168.67 480.26 L170.1 480.33 L171.54 480.41 L172.97 480.48 L174.41 480.55 L175.84 480.58 L177.27 480.61 L178.71 480.63 L180.14 480.66 L181.58 480.69 L183.01 480.72 L184.45 480.73 L185.88 480.74 L187.31 480.75 L188.75 480.76 L190.18 480.77 L191.62 480.78 L193.05 480.79 L194.48 480.8 L195.92 480.81 L197.35 480.82 L198.79 480.83 L200.22 480.84 L201.66 480.85 L203.09 480.86 L204.52 480.87 L205.96 480.88 L207.39 480.89 L208.83 480.9" stroke="#ff0000" stroke-width="1.5" fill="none" stroke-linejoin="round" opacity="1"/>
<path d="M39.59 480.9 L41.03 480.89 L42.46 480.87 L43.9 480.86 L45.33 480.85 L46.77 480.83 L48.2 480.82 L49.63 480.81 L51.07 480.8 L52.5 480.78 L53.94 480.77 L55.37 480.76 L56.8 480.75 L58.24 480.73 L59.67 480.72 L61.11 480.71 L62.54 480.7 L63.98 480.68 L65.41 480.67 L66.84 480.66 L68.28 480.65 L69.71 480.6 L71.15 480.55 L72.58 480.5 L74.01 480.45 L75.45 480.4 L76.88 480.35 L78.32 480.22 L79.75 480.08 L81.19 479.94 L82.62 479.81 L84.05 479.63 L85.49 479.46 L86.92 479.28 L88.36 479.11 L89.79 478.76 L91.22 478.41 L92.66 478.06 L94.09 477.71 L95.53 477.37 L96.96 477.02 L98.4 476.37 L99.83 475.72 L101.26 475.07 L102.7 473.46 L104.13 471.85 L105.57 466.06 L107 459.03 L108.43 448.19 L109.87 436.58 L111.3 421.91 L112.74 407.25 L114.17 393.8 L115.61 385.2 L117.04 377.04 L118.47 369.17 L119.91 366.58 L121.34 364.72 L122.78 365.81 L124.21 366.91 L125.64 368 L127.08 366.91 L128.51 365.81 L129.95 364.72 L131.38 366.58 L132.82 369.17 L134.25 377.04 L135.68 385.2 L137.12 393.8 L138.55 407.25 L139.99 421.91 L141.42 436.58 L142.85 448.19 L144.29 459.03 L145.72 466.06 L147.16 471.85 L148.59 473.46 L150.03 475.07 L151.46 475.72 L152.89 476.37 L154.33 477.02 L155.76 477.37 L157.2 477.71 L158.63 478.06 L160.06 478.41 L161.5 478.76 L162.93 479.11 L164.37 479.28 L165.8 479.46 L167.24 479.63 L168.67 479.81 L170.1 479.94 L171.54 480.08 L172.97 480.22 L174.41 480.35 L175.84 480.4 L177.27 480.45 L178.71 480.5 L180.14 480.55 L181.58 480.6 L183.01 480.65 L184.45 480.66 L185.88 480.67 L187.31 480.68 L188.75 480.7 L190.18 480.71 L191.62 480.72 L193.05 480.73 L194.48 480.75 L195.92 480.76 L197.35 480.77 L198.79 480.78 L200.22 480.8 L201.66 480.81 L203.09 480.82 L204.52 480.83 L205.96 480.85 L207.39 480.86 L208.83 480.87" stroke="#0000ff" stroke-width="1.5" fill="none" stroke-linejoin="round" opacity="1"/>
<path d="M39.59 480.87 L41.03 480.86 L42.46 480.84 L43.9 480.83 L45.33 480.81 L46.77 480.8 L48.2 480.78 L49.63 480.77 L51.07 480.75 L52.5 480.74 L53.94 480.72 L55.37 480.71 L56.8 480.69 L58.24 480.68 L59.67 480.66 L61.11 480.65 L62.54 480.63 L63.98 480.62 L65.41 480.6 L66.84 480.59 L68.28 480.57 L69.71 480.5 L71.15 480.43 L72.58 480.36 L74.01 480.29 L75.45 480.22 L76.88 480.15 L78.32 479.95 L79.75 479.75 L81.19 479.55 L82.62 479.35 L84.05 479.12 L85.49 478.89 L86.92 478.65 L88.36 478.42 L89.79 477.93 L91.22 477.43 L92.66 476.94 L94.09 476.45 L95.53 475.95 L96.96 475.46 L98.4 474.68 L99.83 473.9 L101.26 473.12 L102.7 471.41 L104.13 469.7 L105.57 464.4 L107 457.24 L108.43 446.82 L109.87 435.59 L111.3 421.19 L112.74 406.78 L114.17 393.55 L115.61 385.04 L117.04 376.96 L118.47 369.17 L119.91 366.58 L121.34 364.72 L122.78 365.81 L124.21 366.91 L125.64 368 L127.08 366.91 L128.51 365.81 L129.95 364.72 L131.38 366.58 L132.82 369.17 L134.25 376.96 L135.68 385.04 L137.12 393.55 L138.55 406.78 L139.99 421.19 L141.42 435.59 L142.85 446.82 L144.29 457.24 L145.72 464.4 L147.16 469.7 L148.59 471.41 L150.03 473.12 L151.46 473.9 L152.89 474.68 L154.33 475.46 L155.76 475.95 L157.2 476.45 L158.63 476.94 L160.06 477.43 L161.5 477.93 L162.93 478.42 L164.37 478.65 L165.8 478.89 L167.24 479.12 L168.67 479.35 L170.1 479.55 L171.54 479.75 L172.97 479.95 L174.41 480.15 L175.84 480.22 L177.27 480.29 L178.71 480.36 L180.14 480.43 L181.58 480.5 L183.01 480.57 L184.45 480.59 L185.88 480.6 L187.31 480.62 L188.75 480.63 L190.18 480.65 L191.62 480.66 L193.05 480.68 L194.48 480.69 L195.92 480.71 L197.35 480.72 L198.79 480.74 L200.22 480.75 L201.66 480.77 L203.09 480.78 L204.52 480.8 L205.96 480.81 L207.39 480.83 L208.83 480.84" stroke="#ff00ff" stroke-width="1.5" fill="none" stroke-linejoin="round" opacity="1"/>
<path d="M39.59 480.85 L41.03 480.83 L42.46 480.81 L43.9 480.79 L45.33 480.78 L46.77 480.76 L48.2 480.74 L49.63 480.72 L51.07 480.71 L52.5 480.69 L53.94 480.67 L55.37 480.66 L56.8 480.64 L58.24 480.62 L59.67 480.6 L61.11 480.59 L62.54 480.57 L63.98 480.55 L65.41 480.53 L66.84 480.52 L68.28 480.5 L69.71 480.41 L71.15 480.32 L72.58 480.23 L74.01 480.14 L75.45 480.05 L76.88 479.95 L78.32 479.69 L79.75 479.43 L81.19 479.16 L82.62 478.9 L84.05 478.61 L85.49 478.32 L86.92 478.02 L88.36 477.73 L89.79 477.09 L91.22 476.45 L92.66 475.82 L94.09 475.18 L95.53 474.54 L96.96 473.9 L98.4 472.99 L99.83 472.09 L101.26 471.18 L102.7 469.36 L104.13 467.54 L105.57 462.74 L107 455.46 L108.43 445.44 L109.87 434.61 L111.3 420.46 L112.74 406.31 L114.17 393.31 L115.61 384.88 L117.04 376.88 L118.47 369.17 L119.91 366.58 L121.34 364.72 L122.78 365.81 L124.21 366.91 L125.64 368 L127.08 366.91 L128.51 365.81 L129.95 364.72 L131.38 366.58 L132.82 369.17 L134.25 376.88 L135.68 384.88 L137.12 393.31 L138.55 406.31 L139.99 420.46 L141.42 434.61 L142.85 445.44 L144.29 455.46 L145.72 462.74 L147.16 467.54 L148.59 469.36 L150.03 471.18 L151.46 472.09 L152.89 472.99 L154.33 473.9 L155.76 474.54 L157.2 475.18 L158.63 475.82 L160.06 476.45 L161.5 477.09 L162.93 477.73 L164.37 478.02 L165.8 478.32 L167.24 478.61 L168.67 478.9 L170.1 479.16 L171.54 479.43 L172.97 479.69 L174.41 479.95 L175.84 480.05 L177.27 480.14 L178.71 480.23 L180.14 480.32 L181.58 480.41 L183.01 480.5 L184.45 480.52 L185.88 480.53 L187.31 480.55 L188.75 480.57 L190.18 480.59 L191.62 480.6 L193.05 480.62 L194.48 480.64 L195.92 480.66 L197.35 480.67 L198.79 480.69 L200.22 480.71 L201.66 480.72 L203.09 480.74 L204.52 480.76 L205.96 480.78 L207.39 480.79 L208.83 480.81" stroke="#008000" stroke-width="1.5" fill="none" stroke-linejoin="round" opacity="1"/>
<path d="M39.59 480.82 L41.03 480.8 L42.46 480.78 L43.9 480.76 L45.33 480.74 L46.77 480.72 L48.2 480.7 L49.63 480.68 L51.07 480.66 L52.5 480.64 L53.94 480.62 L55.37 480.6 L56.8 480.58 L58.24 480.56 L59.67 480.54 L61.11 480.52 L62.54 480.5 L63.98 480.49 L65.41 480.47 L66.84 480.45 L68.28 480.43 L69.71 480.31 L71.15 480.2 L72.58 480.09 L74.01 479.98 L75.45 479.87 L76.88 479.76 L78.32 479.43 L79.75 479.1 L81.19 478.77 L82.62 478.44 L84.05 478.09 L85.49 477.74 L86.92 477.39 L88.36 477.04 L89.79 476.26 L91.22 475.48 L92.66 474.69 L94.09 473.91 L95.53 473.13 L96.96 472.35 L98.4 471.31 L99.83 470.27 L101.26 469.23 L102.7 467.31 L104.13 465.39 L105.57 461.08 L107 453.67 L108.43 444.07 L109.87 433.62 L111.3 419.73 L112.74 405.85 L114.17 393.07 L115.61 384.71 L117.04 376.8 L118.47 369.17 L119.91 366.58 L121.34 364.72 L122.78 365.81 L124.21 366.91 L125.64 368 L127.08 366.91 L128.51 365.81 L129.95 364.72 L131.38 366.58 L132.82 369.17 L134.25 376.8 L135.68 384.71 L137.12 393.07 L138.55 405.85 L139.99 419.73 L141.42 433.62 L142.85 444.07 L144.29 453.67 L145.72 461.08 L147.16 465.39 L148.59 467.31 L150.03 469.23 L151.46 470.27 L152.89 471.31 L154.33 472.35 L155.76 473.13 L157.2 473.91 L158.63 474.69 L160.06 475.48 L161.5 476.26 L162.93 477.04 L164.37 477.39 L165.8 477.74 L167.24 478.09 L168.67 478.44 L170.1 478.77 L171.54 479.1 L172.97 479.43 L174.41 479.76 L175.84 479.87 L177.27 479.98 L178.71 480.09 L180.14 480.2 L181.58 480.31 L183.01 480.43 L184.45 480.45 L185.88 480.47 L187.31 480.49 L188.75 480.5 L190.18 480.52 L191.62 480.54 L193.05 480.56 L194.48 480.58 L195.92 480.6 L197.35 480.62 L198.79 480.64 L200.22 480.66 L201.66 480.68 L203.09 480.7 L204.52 480.72 L205.96 480.74 L207.39 480.76 L208.83 480.78" stroke="#000080" stroke-width="1.5" fill="none" stroke-linejoin="round" opacity="1"/>
<path d="M39.59 480.79 L41.03 480.77 L42.46 480.75 L43.9 480.73 L45.33 480.71 L46.77 480.68 L48.2 480.66 L49.63 480.64 L51.07 480.62 L52.5 480.6 L53.94 480.57 L55.37 480.55 L56.8 480.53 L58.24 480.51 L59.67 480.48 L61.11 480.46 L62.54 480.44 L63.98 480.42 L65.41 480.4 L66.84 480.37 L68.28 480.35 L69.71 480.22 L71.15 480.09 L72.58 479.96 L74.01 479.82 L75.45 479.69 L76.88 479.56 L78.32 479.17 L79.75 478.77 L81.19 478.38 L82.62 477.99 L84.05 477.58 L85.49 477.17 L86.92 476.76 L88.36 476.36 L89.79 475.43 L91.22 474.5 L92.66 473.57 L94.09 472.64 L95.53 471.72 L96.96 470.79 L98.4 469.62 L99.83 468.45 L101.26 467.28 L102.7 465.26 L104.13 463.23 L105.57 459.42 L107 451.88 L108.43 442.7 L109.87 432.63 L111.3 419.01 L112.74 405.38 L114.17 392.82 L115.61 384.55 L117.04 376.72 L118.47 369.17 L119.91 366.58 L121.34 364.72 L122.78 365.81 L124.21 366.91 L125.64 368 L127.08 366.91 L128.51 365.81 L129.95 364.72 L131.38 366.58 L132.82 369.17 L134.25 376.72 L135.68 384.55 L137.12 392.82 L138.55 405.38 L139.99 419.01 L141.42 432.63 L142.85 442.7 L144.29 451.88 L145.72 459.42 L147.16 463.23 L148.59 465.26 L150.03 467.28 L151.46 468.45 L152.89 469.62 L154.33 470.79 L155.76 471.72 L157.2 472.64 L158.63 473.57 L160.06 474.5 L161.5 475.43 L162.93 476.36 L164.37 476.76 L165.8 477.17 L167.24 477.58 L168.67 477.99 L170.1 478.38 L171.54 478.77 L172.97 479.17 L174.41 479.56 L175.84 479.69 L177.27 479.82 L178.71 479.96 L180.14 480.09 L181.58 480.22 L183.01 480.35 L184.45 480.37 L185.88 480.4 L187.31 480.42 L188.75 480.44 L190.18 480.46 L191.62 480.48 L193.05 480.51 L194.48 480.53 L195.92 480.55 L197.35 480.57 L198.79 480.6 L200.22 480.62 L201.66 480.64 L203.09 480.66 L204.52 480.68 L205.96 480.71 L207.39 480.73 L208.83 480.75" stroke="#8000ff" stroke-width="1.5" fill="none" stroke-linejoin="round" opacity="1"/>
<path d="M39.59 480.77 L41.03 480.74 L42.46 480.72 L43.9 480.69 L45.33 480.67 L46.77 480.65 L48.2 480.62 L49.63 480.6 L51.07 480.57 L52.5 480.55 L53.94 480.52 L55.37 480.5 L56.8 480.47 L58.24 480.45 L59.67 480.43 L61.11 480.4 L62.54 480.38 L63.98 480.35 L65.41 480.33 L66.84 480.3 L68.28 480.28 L69.71 480.13 L71.15 479.97 L72.58 479.82 L74.01 479.67 L75.45 479.51 L76.88 479.36 L78.32 478.9 L79.75 478.45 L81.19 477.99 L82.62 477.54 L84.05 477.07 L85.49 476.6 L86.92 476.13 L88.36 475.67 L89.79 474.59 L91.22 473.52 L92.66 472.45 L94.09 471.38 L95.53 470.3 L96.96 469.23 L98.4 467.93 L99.83 466.64 L101.26 465.34 L102.7 463.21 L104.13 461.08 L105.57 457.76 L107 450.09 L108.43 441.33 L109.87 431.65 L111.3 418.28 L112.74 404.91 L114.17 392.58 L115.61 384.39 L117.04 376.63 L118.47 369.17 L119.91 366.58 L121.34 364.72 L122.78 365.81 L124.21 366.91 L125.64 368 L127.08 366.91 L128.51 365.81 L129.95 364.72 L131.38 366.58 L132.82 369.17 L134.25 376.63 L135.68 384.39 L137.12 392.58 L138.55 404.91 L139.99 418.28 L141.42 431.65 L142.85 441.33 L144.29 450.09 L145.72 457.76 L147.16 461.08 L148.59 463.21 L150.03 465.34 L151.46 466.64 L152.89 467.93 L154.33 469.23 L155.76 470.3 L157.2 471.38 L158.63 472.45 L160.06 473.52 L161.5 474.59 L162.93 475.67 L164.37 476.13 L165.8 476.6 L167.24 477.07 L168.67 477.54 L170.1 477.99 L171.54 478.45 L172.97 478.9 L174.41 479.36 L175.84 479.51 L177.27 479.67 L178.71 479.82 L180.14 479.97 L181.58 480.13 L183.01 480.28 L184.45 480.3 L185.88 480.33 L187.31 480.35 L188.75 480.38 L190.18 480.4 L191.62 480.43 L193.05 480.45 L194.48 480.47 L195.92 480.5 L197.35 480.52 L198.79 480.55 L200.22 480.57 L201.66 480.6 L203.09 480.62 L204.52 480.65 L205.96 480.67 L207.39 480.69 L208.83 480.72" stroke="#800080" stroke-width="1.5" fill="none" stroke-linejoin="round" opacity="1"/>
<path d="M39.59 480.74 L41.03 480.72 L42.46 480.69 L43.9 480.66 L45.33 480.63 L46.77 480.61 L48.2 480.58 L49.63 480.55 L51.07 480.53 L52.5 480.5 L53.94 480.47 L55.37 480.45 L56.8 480.42 L58.24 480.39 L59.67 480.37 L61.11 480.34 L62.54 480.31 L63.98 480.29 L65.41 480.26 L66.84 480.23 L68.28 480.21 L69.71 480.03 L71.15 479.86 L72.58 479.68 L74.01 479.51 L75.45 479.34 L76.88 479.16 L78.32 478.64 L79.75 478.12 L81.19 477.6 L82.62 477.08 L84.05 476.56 L85.49 476.03 L86.92 475.51 L88.36 474.98 L89.79 473.76 L91.22 472.54 L92.66 471.33 L94.09 470.11 L95.53 468.89 L96.96 467.67 L98.4 466.25 L99.83 464.82 L101.26 463.39 L102.7 461.16 L104.13 458.93 L105.57 456.1 L107 448.3 L108.43 439.96 L109.87 430.66 L111.3 417.55 L112.74 404.45 L114.17 392.34 L115.61 384.23 L117.04 376.55 L118.47 369.17 L119.91 366.58 L121.34 364.72 L122.78 365.81 L124.21 366.91 L125.64 368 L127.08 366.91 L128.51 365.81 L129.95 364.72 L131.38 366.58 L132.82 369.17 L134.25 376.55 L135.68 384.23 L137.12 392.34 L138.55 404.45 L139.99 417.55 L141.42 430.66 L142.85 439.96 L144.29 448.3 L145.72 456.1 L147.16 458.93 L148.59 461.16 L150.03 463.39 L151.46 464.82 L152.89 466.25 L154.33 467.67 L155.76 468.89 L157.2 470.11 L158.63 471.33 L160.06 472.54 L161.5 473.76 L162.93 474.98 L164.37 475.51 L165.8 476.03 L167.24 476.56 L168.67 477.08 L170.1 477.6 L171.54 478.12 L172.97 478.64 L174.41 479.16 L175.84 479.34 L177.27 479.51 L178.71 479.68 L180.14 479.86 L181.58 480.03 L183.01 480.21 L184.45 480.23 L185.88 480.26 L187.31 480.29 L188.75 480.31 L190.18 480.34 L191.62 480.37 L193.05 480.39 L194.48 480.42 L195.92 480.45 L197.35 480.47 L198.79 480.5 L200.22 480.53 L201.66 480.55 L203.09 480.58 L204.52 480.61 L205.96 480.63 L207.39 480.66 L208.83 480.69" stroke="#800000" stroke-width="1.5" fill="none" stroke-linejoin="round" opacity="1"/>
<path d="M39.59 480.72 L41.03 480.69 L42.46 480.66 L43.9 480.63 L45.33 480.6 L46.77 480.57 L48.2 480.54 L49.63 480.51 L51.07 480.48 L52.5 480.45 L53.94 480.42 L55.37 480.39 L56.8 480.37 L58.24 480.34 L59.67 480.31 L61.11 480.28 L62.54 480.25 L63.98 480.22 L65.41 480.19 L66.84 480.16 L68.28 480.13 L69.71 479.94 L71.15 479.74 L72.58 479.55 L74.01 479.35 L75.45 479.16 L76.88 478.96 L78.32 478.38 L79.75 477.8 L81.19 477.21 L82.62 476.63 L84.05 476.04 L85.49 475.46 L86.92 474.88 L88.36 474.29 L89.79 472.93 L91.22 471.57 L92.66 470.2 L94.09 468.84 L95.53 467.48 L96.96 466.12 L98.4 464.56 L99.83 463 L101.26 461.44 L102.7 459.11 L104.13 456.77 L105.57 454.44 L107 446.51 L108.43 438.58 L109.87 429.67 L111.3 416.83 L112.74 403.98 L114.17 392.09 L115.61 384.06 L117.04 376.47 L118.47 369.17 L119.91 366.58 L121.34 364.72 L122.78 365.81 L124.21 366.91 L125.64 368 L127.08 366.91 L128.51 365.81 L129.95 364.72 L131.38 366.58 L132.82 369.17 L134.25 376.47 L135.68 384.06 L137.12 392.09 L138.55 403.98 L139.99 416.83 L141.42 429.67 L142.85 438.58 L144.29 446.51 L145.72 454.44 L147.16 456.77 L148.59 459.11 L150.03 461.44 L151.46 463 L152.89 464.56 L154.33 466.12 L155.76 467.48 L157.2 468.84 L158.63 470.2 L160.06 471.57 L161.5 472.93 L162.93 474.29 L164.37 474.88 L165.8 475.46 L167.24 476.04 L168.67 476.63 L170.1 477.21 L171.54 477.8 L172.97 478.38 L174.41 478.96 L175.84 479.16 L177.27 479.35 L178.71 479.55 L180.14 479.74 L181.58 479.94 L183.01 480.13 L184.45 480.16 L185.88 480.19 L187.31 480.22 L188.75 480.25 L190.18 480.28 L191.62 480.31 L193.05 480.34 L194.48 480.37 L195.92 480.39 L197.35 480.42 L198.79 480.45 L200.22 480.48 L201.66 480.51 L203.09 480.54 L204.52 480.57 L205.96 480.6 L207.39 480.63 L208.83 480.66" stroke="#808000" stroke-width="1.5" fill="none" stroke-linejoin="round" opacity="1"/>
<rect x="37.2" y="352.6" width="173.4" height="140.7" fill="none" stroke="#222" stroke-width="1"/>
<path d="M37.3 493.3v2.6M37.3 352.6v2.2M65.98 493.3v2.6M65.98 352.6v2.2M94.67 493.3v2.6M94.67 352.6v2.2M123.35 493.3v2.6M123.35 352.6v2.2M152.03 493.3v2.6M152.03 352.6v2.2M180.72 493.3v2.6M180.72 352.6v2.2M209.4 493.3v2.6M209.4 352.6v2.2M51.64 493.3v1.5M80.33 493.3v1.5M109.01 493.3v1.5M137.69 493.3v1.5M166.38 493.3v1.5M195.06 493.3v1.5M37.2 481.3h-2.6M210.6 481.3h-2.2M37.2 457.94h-2.6M210.6 457.94h-2.2M37.2 434.58h-2.6M210.6 434.58h-2.2M37.2 411.22h-2.6M210.6 411.22h-2.2M37.2 387.86h-2.6M210.6 387.86h-2.2M37.2 364.5h-2.6M210.6 364.5h-2.2M37.2 492.98h-1.5M37.2 469.62h-1.5M37.2 446.26h-1.5M37.2 422.9h-1.5M37.2 399.54h-1.5M37.2 376.18h-1.5M37.2 352.82h-1.5" stroke="#222" stroke-width="0.9" fill="none"/>
<text transform="translate(32.23 504.44) scale(0.93 1)" font-family="Liberation Sans" font-size="7.5" fill="#222">-30</text>
<text transform="translate(60.91 504.44) scale(0.93 1)" font-family="Liberation Sans" font-size="7.5" fill="#222">-20</text>
<text transform="translate(89.59 504.44) scale(0.93 1)" font-family="Liberation Sans" font-size="7.5" fill="#222">-10</text>
<text transform="translate(121.4 504.44) scale(0.93 1)" font-family="Liberation Sans" font-size="7.5" fill="#222">0</text>
<text transform="translate(148.02 504.44) scale(0.93 1)" font-family="Liberation Sans" font-size="7.5" fill="#222">10</text>
<text transform="translate(176.79 504.44) scale(0.93 1)" font-family="Liberation Sans" font-size="7.5" fill="#222">20</text>
<text transform="translate(205.51 504.44) scale(0.93 1)" font-family="Liberation Sans" font-size="7.5" fill="#222">30</text>
<text x="23.31" y="483.12" font-family="Liberation Sans" font-size="7.0" fill="#222">0.0</text>
<text x="23.42" y="459.75" font-family="Liberation Sans" font-size="7.0" fill="#222">0.2</text>
<text x="23.28" y="436.39" font-family="Liberation Sans" font-size="7.0" fill="#222">0.4</text>
<text x="23.35" y="413.04" font-family="Liberation Sans" font-size="7.0" fill="#222">0.6</text>
<text x="23.35" y="389.68" font-family="Liberation Sans" font-size="7.0" fill="#222">0.8</text>
<text x="23.31" y="366.31" font-family="Liberation Sans" font-size="7.0" fill="#222">1.0</text>
<text x="18.46" y="491.01" font-family="Liberation Serif" font-size="13.18" fill="#111" transform="rotate(-90 18.46 491.01)">Normalized Pressure</text>
<text x="96.56" y="522.32" font-family="Liberation Serif" font-size="13.85" fill="#111">Y (mm)</text>
<text x="1.1" y="365.24" font-family="Liberation Serif" font-size="16" fill="#111">(e)</text>
<text x="144.59" y="369.09" font-family="Liberation Serif" font-size="11.2" fill="#111">d=Λ=5mm</text>
<path d="M53.9 370.7H68.6" stroke="#000000" stroke-width="1.5"/>
<text transform="translate(69.51 373.08) scale(0.84 1)" font-family="Liberation Sans" font-size="7.2" fill="#222">14100Hz</text>
<path d="M53.9 379.68H68.6" stroke="#ff0000" stroke-width="1.5"/>
<text transform="translate(69.51 382.06) scale(0.84 1)" font-family="Liberation Sans" font-size="7.2" fill="#222">14150Hz</text>
<path d="M53.9 388.66H68.6" stroke="#0000ff" stroke-width="1.5"/>
<text transform="translate(69.51 391.04) scale(0.84 1)" font-family="Liberation Sans" font-size="7.2" fill="#222">14200Hz</text>
<path d="M53.9 397.64H68.6" stroke="#ff00ff" stroke-width="1.5"/>
<text transform="translate(69.51 400.02) scale(0.84 1)" font-family="Liberation Sans" font-size="7.2" fill="#222">14250Hz</text>
<path d="M53.9 406.62H68.6" stroke="#008000" stroke-width="1.5"/>
<text transform="translate(69.51 409) scale(0.84 1)" font-family="Liberation Sans" font-size="7.2" fill="#222">14300Hz</text>
<path d="M53.9 415.6H68.6" stroke="#000080" stroke-width="1.5"/>
<text transform="translate(69.51 417.98) scale(0.84 1)" font-family="Liberation Sans" font-size="7.2" fill="#222">14350Hz</text>
<path d="M53.9 424.58H68.6" stroke="#8000ff" stroke-width="1.5"/>
<text transform="translate(69.51 426.96) scale(0.84 1)" font-family="Liberation Sans" font-size="7.2" fill="#222">14400Hz</text>
<path d="M53.9 433.56H68.6" stroke="#800080" stroke-width="1.5"/>
<text transform="translate(69.51 435.94) scale(0.84 1)" font-family="Liberation Sans" font-size="7.2" fill="#222">14450Hz</text>
<path d="M53.9 442.54H68.6" stroke="#800000" stroke-width="1.5"/>
<text transform="translate(69.51 444.92) scale(0.84 1)" font-family="Liberation Sans" font-size="7.2" fill="#222">14500Hz</text>
<path d="M53.9 451.52H68.6" stroke="#808000" stroke-width="1.5"/>
<text transform="translate(69.51 453.9) scale(0.84 1)" font-family="Liberation Sans" font-size="7.2" fill="#222">14550Hz</text>
<path d="M250.5 484.25 C253.15 484.25 262.37 484.27 266.38 484.25 C270.39 484.23 271.94 484.6 274.58 484.13 C277.23 483.67 279.75 483.16 282.26 481.45 C284.77 479.75 287.16 477.67 289.67 473.88 C292.19 470.1 295.14 464.12 297.35 458.74 C299.55 453.36 301.32 447.63 302.9 441.61 C304.49 435.59 305.59 429.88 306.87 422.62 C308.15 415.36 309.48 405.3 310.58 398.04 C311.68 390.78 312.54 384.04 313.49 379.05 C314.44 374.06 315.19 367.79 316.3 368.1 C317.4 368.41 318.68 376.74 320.11 380.92 C321.54 385.09 323.23 390.39 324.87 393.15 C326.52 395.9 328.49 397.28 329.98 397.46 C331.47 397.63 332.37 396.64 333.79 394.2 C335.21 391.75 336.99 386.74 338.5 382.78 C340.01 378.82 341.61 370.1 342.87 370.43 C344.13 370.76 344.72 377.32 346.04 384.76 C347.37 392.2 349.04 405.57 350.81 415.05 C352.57 424.52 354.73 434.02 356.63 441.61 C358.53 449.2 359.98 454.89 362.19 460.6 C364.39 466.31 367 472.23 369.86 475.86 C372.73 479.49 376.26 481.12 379.39 482.39 C382.52 483.65 385.52 483.44 388.66 483.44 C391.79 483.44 394.83 482.97 398.18 482.39 C401.54 481.8 407.01 480.35 408.77 479.94" stroke="#111" stroke-width="1.4" fill="none" stroke-linejoin="round" opacity="1"/>
<path d="M250.5 484.25 C251.34 481.9 253.41 475.05 255.53 470.15 C257.65 465.26 260.65 459.65 263.2 454.89 C265.76 450.14 268.36 446.04 270.88 441.61 C273.39 437.18 275.78 433.07 278.29 428.33 C280.8 423.59 283.41 417.92 285.97 413.19 C288.52 408.45 291.08 404.02 293.64 399.9 C296.2 395.79 298.8 391.96 301.32 388.49 C303.83 385.01 306.21 381.58 308.73 379.05 C311.24 376.53 313.89 374.93 316.4 373.34 C318.92 371.75 321.56 370.41 323.81 369.5 C326.06 368.59 326.65 367.71 329.9 367.87 C333.15 368.02 339.16 368.74 343.29 370.43 C347.43 372.12 350.89 374.68 354.7 378 C358.51 381.32 362.35 385.75 366.16 390.35 C369.97 394.95 374.1 400.55 377.54 405.61 C380.98 410.68 383.67 415.71 386.8 420.76 C389.94 425.81 393.46 431.17 396.33 435.9 C399.2 440.64 401.93 445.07 404.01 449.18 C406.08 453.3 407.98 458.7 408.77 460.6" stroke="#ff1a1a" stroke-width="1.5" fill="none" stroke-linejoin="round" opacity="1"/>
<path d="M250.5 481.95L252.3 485.15L248.7 485.15ZM253.81 472.68L255.61 475.88L252.01 475.88ZM257.12 464.7L258.92 467.9L255.32 467.9ZM260.43 458.12L262.23 461.32L258.62 461.32ZM263.73 451.68L265.53 454.88L261.93 454.88ZM267.04 445.95L268.84 449.15L265.24 449.15ZM270.35 440.23L272.15 443.43L268.55 443.43ZM273.66 434.33L275.46 437.53L271.86 437.53ZM276.97 428.4L278.77 431.6L275.17 431.6ZM280.27 422.11L282.07 425.31L278.47 425.31ZM283.58 415.59L285.38 418.79L281.78 418.79ZM286.89 409.28L288.69 412.48L285.09 412.48ZM290.2 403.56L292 406.76L288.4 406.76ZM293.51 397.83L295.31 401.03L291.71 401.03ZM296.82 392.88L298.62 396.08L295.02 396.08ZM300.12 387.96L301.93 391.16L298.32 391.16ZM303.43 383.49L305.23 386.69L301.63 386.69ZM306.74 379.28L308.54 382.48L304.94 382.48ZM310.05 375.77L311.85 378.97L308.25 378.97ZM313.36 373.31L315.16 376.51L311.56 376.51ZM316.67 370.91L318.47 374.11L314.87 374.11ZM319.98 369.19L321.78 372.39L318.18 372.39ZM323.28 367.47L325.08 370.67L321.48 370.67ZM326.59 366.45L328.39 369.65L324.79 369.65ZM329.9 365.57L331.7 368.77L328.1 368.77ZM333.21 366.2L335.01 369.4L331.41 369.4ZM336.52 366.83L338.32 370.03L334.72 370.03ZM339.82 367.47L341.62 370.67L338.02 370.67ZM343.13 368.1L344.93 371.3L341.33 371.3ZM346.44 370.22L348.24 373.42L344.64 373.42ZM349.75 372.42L351.55 375.62L347.95 375.62ZM353.06 374.61L354.86 377.81L351.26 377.81ZM356.37 377.5L358.17 380.7L354.57 380.7ZM359.68 381.06L361.48 384.26L357.88 384.26ZM362.98 384.63L364.78 387.83L361.18 387.83ZM366.29 388.23L368.09 391.43L364.49 391.43ZM369.6 392.67L371.4 395.87L367.8 395.87ZM372.91 397.1L374.71 400.3L371.11 400.3ZM376.22 401.54L378.02 404.74L374.42 404.74ZM379.52 406.56L381.32 409.76L377.72 409.76ZM382.83 411.97L384.63 415.17L381.03 415.17ZM386.14 417.38L387.94 420.58L384.34 420.58ZM389.45 422.66L391.25 425.86L387.65 425.86ZM392.76 427.92L394.56 431.12L390.96 431.12ZM396.07 433.18L397.87 436.38L394.27 436.38ZM399.38 438.87L401.18 442.07L397.57 442.07ZM402.68 444.59L404.48 447.79L400.88 447.79ZM405.99 451.64L407.79 454.84L404.19 454.84ZM409.3 458.3L411.1 461.5L407.5 461.5Z" fill="#ff1a1a"/>
<rect x="250.5" y="356.5" width="159.1" height="139.7" fill="none" stroke="#222" stroke-width="1"/>
<path d="M250.5 496.2v2.6M250.5 356.5v2.2M276.97 496.2v2.6M276.97 356.5v2.2M303.43 496.2v2.6M303.43 356.5v2.2M329.9 496.2v2.6M329.9 356.5v2.2M356.37 496.2v2.6M356.37 356.5v2.2M382.83 496.2v2.6M382.83 356.5v2.2M409.3 496.2v2.6M409.3 356.5v2.2M263.73 496.2v1.5M290.2 496.2v1.5M316.67 496.2v1.5M343.13 496.2v1.5M369.6 496.2v1.5M396.07 496.2v1.5M250.5 484.6h-2.6M409.6 484.6h-2.2M250.5 461.3h-2.6M409.6 461.3h-2.2M250.5 438h-2.6M409.6 438h-2.2M250.5 414.7h-2.6M409.6 414.7h-2.2M250.5 391.4h-2.6M409.6 391.4h-2.2M250.5 368.1h-2.6M409.6 368.1h-2.2M250.5 496.25h-1.5M250.5 472.95h-1.5M250.5 449.65h-1.5M250.5 426.35h-1.5M250.5 403.05h-1.5M250.5 379.75h-1.5M250.5 356.45h-1.5" stroke="#222" stroke-width="0.9" fill="none"/>
<text transform="translate(245.84 506.01) scale(0.8 1)" font-family="Liberation Sans" font-size="8" fill="#222">-30</text>
<text transform="translate(272.31 506.01) scale(0.8 1)" font-family="Liberation Sans" font-size="8" fill="#222">-20</text>
<text transform="translate(298.78 506.01) scale(0.8 1)" font-family="Liberation Sans" font-size="8" fill="#222">-10</text>
<text transform="translate(328.11 506.01) scale(0.8 1)" font-family="Liberation Sans" font-size="8" fill="#222">0</text>
<text transform="translate(352.69 506.01) scale(0.8 1)" font-family="Liberation Sans" font-size="8" fill="#222">10</text>
<text transform="translate(379.23 506.01) scale(0.8 1)" font-family="Liberation Sans" font-size="8" fill="#222">20</text>
<text transform="translate(405.73 506.01) scale(0.8 1)" font-family="Liberation Sans" font-size="8" fill="#222">30</text>
<text transform="translate(237.77 486.46) scale(0.75 1)" font-family="Liberation Sans" font-size="8.3" fill="#222">0.0</text>
<text transform="translate(237.86 463.16) scale(0.75 1)" font-family="Liberation Sans" font-size="8.3" fill="#222">0.2</text>
<text transform="translate(237.73 439.86) scale(0.75 1)" font-family="Liberation Sans" font-size="8.3" fill="#222">0.4</text>
<text transform="translate(237.8 416.56) scale(0.75 1)" font-family="Liberation Sans" font-size="8.3" fill="#222">0.6</text>
<text transform="translate(237.8 393.26) scale(0.75 1)" font-family="Liberation Sans" font-size="8.3" fill="#222">0.8</text>
<text transform="translate(237.77 369.96) scale(0.75 1)" font-family="Liberation Sans" font-size="8.3" fill="#222">1.0</text>
<text x="232.77" y="490.97" font-family="Liberation Serif" font-size="13.04" fill="#111" transform="rotate(-90 232.77 490.97)">Normalized Pressure</text>
<text x="305.46" y="524.43" font-family="Liberation Serif" font-size="13.88" fill="#111">Y (mm)</text>
<text x="219.7" y="365.32" font-family="Liberation Serif" font-size="16" fill="#111">(f)</text>
<text x="348.26" y="369.4" font-family="Liberation Serif" font-size="11.1" fill="#111">d=4Λ=10mm</text>
<path d="M298.5 478.6H311.5" stroke="#111" stroke-width="1.4"/>
<text transform="translate(312.5 480.71) scale(0.86 1)" font-family="Liberation Sans" font-size="6.7" fill="#222">1840Hz</text>
<path d="M298.5 486.3H311.5" stroke="#ff1a1a" stroke-width="1.4"/>
<path d="M305 484.5L306.62 487.38L303.38 487.38Z" fill="#ff1a1a"/>
<text transform="translate(312.9 488.26) scale(0.84 1)" font-family="Liberation Sans" font-size="6.7" fill="#222">1840Hz_w/o lens</text>
<path d="M450.08 482.11 C450.27 482.11 450.82 482.14 451.19 482.15 C451.56 482.17 451.93 482.18 452.29 482.2 C452.66 482.21 453.03 482.23 453.4 482.24 C453.77 482.25 454.14 482.27 454.5 482.28 C454.87 482.3 455.24 482.31 455.61 482.33 C455.98 482.34 456.35 482.36 456.71 482.37 C457.08 482.39 457.45 482.4 457.82 482.42 C458.19 482.43 458.56 482.45 458.92 482.46 C459.29 482.48 459.66 482.49 460.03 482.51 C460.4 482.52 460.77 482.54 461.13 482.55 C461.5 482.57 461.87 482.58 462.24 482.59 C462.61 482.61 462.98 482.62 463.34 482.64 C463.71 482.65 464.08 482.67 464.45 482.68 C464.82 482.7 465.19 482.71 465.55 482.73 C465.92 482.74 466.29 482.76 466.66 482.77 C467.03 482.79 467.4 482.8 467.76 482.82 C468.13 482.84 468.5 482.86 468.87 482.88 C469.24 482.91 469.61 482.93 469.97 482.95 C470.34 482.97 470.71 482.99 471.08 483.02 C471.45 483.04 471.82 483.06 472.18 483.08 C472.55 483.11 472.92 483.13 473.29 483.15 C473.66 483.17 474.03 483.19 474.39 483.22 C474.76 483.24 475.13 483.26 475.5 483.28 C475.87 483.3 476.24 483.33 476.6 483.35 C476.97 483.37 477.34 483.39 477.71 483.42 C478.08 483.44 478.45 483.46 478.81 483.48 C479.18 483.5 479.55 483.53 479.92 483.55 C480.29 483.57 480.66 483.59 481.02 483.62 C481.39 483.65 481.76 483.69 482.13 483.73 C482.5 483.77 482.87 483.81 483.23 483.84 C483.6 483.88 483.97 483.92 484.34 483.96 C484.71 484 485.08 484.03 485.44 484.07 C485.81 484.11 486.18 484.15 486.55 484.19 C486.92 484.22 487.29 484.28 487.65 484.3 C488.02 484.32 488.39 484.3 488.76 484.3 C489.13 484.3 489.5 484.3 489.86 484.3 C490.23 484.3 490.6 484.3 490.97 484.3 C491.34 484.3 491.71 484.32 492.07 484.3 C492.44 484.28 492.81 484.3 493.18 484.19 C493.55 484.09 493.92 483.84 494.28 483.66 C494.65 483.48 495.02 483.3 495.39 483.12 C495.76 482.95 496.13 482.84 496.49 482.59 C496.86 482.34 497.23 481.95 497.6 481.64 C497.97 481.32 498.34 481 498.7 480.69 C499.07 480.37 499.44 480.06 499.81 479.74 C500.18 479.42 500.55 479.09 500.91 478.77 C501.28 478.44 501.65 478.1 502.02 477.77 C502.39 477.43 502.76 477.1 503.12 476.77 C503.49 476.44 503.86 476.09 504.23 475.77 C504.6 475.45 504.97 475.13 505.33 474.83 C505.7 474.53 506.07 474.26 506.44 473.97 C506.81 473.69 507.18 473.4 507.54 473.12 C507.91 472.83 508.28 472.63 508.65 472.26 C509.02 471.89 509.39 471.48 509.75 470.89 C510.12 470.31 510.49 469.47 510.86 468.75 C511.23 468.04 511.6 467.41 511.96 466.61 C512.33 465.82 512.7 465.19 513.07 463.98 C513.44 462.76 513.81 460.89 514.17 459.34 C514.54 457.8 514.91 456.25 515.28 454.71 C515.65 453.16 516.02 452.2 516.38 450.07 C516.75 447.94 517.12 444.64 517.49 441.92 C517.86 439.2 518.23 436.51 518.59 433.77 C518.96 431.03 519.33 428.34 519.7 425.47 C520.07 422.6 520.44 419.52 520.8 416.55 C521.17 413.58 521.54 410.61 521.91 407.64 C522.28 404.67 522.65 401.23 523.01 398.73 C523.38 396.22 523.75 394.65 524.12 392.61 C524.49 390.57 524.86 388.4 525.22 386.5 C525.59 384.6 525.96 382.43 526.33 381.23 C526.7 380.04 527.07 379.78 527.43 379.35 C527.8 378.92 528.17 378.1 528.54 378.68 C528.91 379.26 529.28 381.31 529.64 382.84 C530.01 384.38 530.38 385.62 530.75 387.89 C531.12 390.15 531.49 393.59 531.85 396.44 C532.22 399.3 532.59 402.27 532.96 405 C533.33 407.73 533.7 410.23 534.06 412.8 C534.43 415.36 534.8 418.14 535.17 420.4 C535.54 422.66 535.91 424.79 536.27 426.36 C536.64 427.93 537.01 428.67 537.38 429.83 C537.75 430.98 538.12 433.3 538.48 433.3 C538.85 433.3 539.22 430.98 539.59 429.83 C539.96 428.67 540.33 427.93 540.69 426.36 C541.06 424.79 541.43 422.66 541.8 420.4 C542.17 418.14 542.54 415.36 542.9 412.8 C543.27 410.23 543.64 407.73 544.01 405 C544.38 402.27 544.75 399.3 545.11 396.44 C545.48 393.59 545.85 390.15 546.22 387.89 C546.59 385.62 546.96 384.38 547.32 382.84 C547.69 381.31 548.06 379.26 548.43 378.68 C548.8 378.1 549.17 378.92 549.53 379.35 C549.9 379.78 550.27 380.04 550.64 381.23 C551.01 382.43 551.38 384.6 551.74 386.5 C552.11 388.4 552.48 390.57 552.85 392.61 C553.22 394.65 553.59 396.22 553.95 398.73 C554.32 401.23 554.69 404.67 555.06 407.64 C555.43 410.61 555.8 413.58 556.16 416.55 C556.53 419.52 556.9 422.6 557.27 425.47 C557.64 428.34 558.01 431.03 558.37 433.77 C558.74 436.51 559.11 439.2 559.48 441.92 C559.85 444.64 560.22 447.94 560.58 450.07 C560.95 452.2 561.32 453.16 561.69 454.71 C562.06 456.25 562.43 457.8 562.79 459.34 C563.16 460.89 563.53 462.76 563.9 463.98 C564.27 465.19 564.64 465.82 565 466.61 C565.37 467.41 565.74 468.04 566.11 468.75 C566.48 469.47 566.85 470.31 567.21 470.89 C567.58 471.48 567.95 471.89 568.32 472.26 C568.69 472.63 569.06 472.83 569.42 473.12 C569.79 473.4 570.16 473.69 570.53 473.97 C570.9 474.26 571.27 474.53 571.63 474.83 C572 475.13 572.37 475.45 572.74 475.77 C573.11 476.09 573.48 476.44 573.84 476.77 C574.21 477.1 574.58 477.43 574.95 477.77 C575.32 478.1 575.69 478.44 576.05 478.77 C576.42 479.09 576.79 479.42 577.16 479.74 C577.53 480.06 577.9 480.37 578.26 480.69 C578.63 481 579 481.32 579.37 481.64 C579.74 481.95 580.11 482.34 580.47 482.59 C580.84 482.84 581.21 482.95 581.58 483.12 C581.95 483.3 582.32 483.48 582.68 483.66 C583.05 483.84 583.42 484.09 583.79 484.19 C584.16 484.3 584.53 484.28 584.89 484.3 C585.26 484.32 585.63 484.3 586 484.3 C586.37 484.3 586.74 484.3 587.1 484.3 C587.47 484.3 587.84 484.3 588.21 484.3 C588.58 484.3 588.95 484.32 589.31 484.3 C589.68 484.28 590.05 484.22 590.42 484.19 C590.79 484.15 591.16 484.11 591.52 484.07 C591.89 484.03 592.26 484 592.63 483.96 C593 483.92 593.37 483.88 593.73 483.84 C594.1 483.81 594.47 483.77 594.84 483.73 C595.21 483.69 595.58 483.65 595.94 483.62 C596.31 483.59 596.68 483.57 597.05 483.55 C597.42 483.53 597.79 483.5 598.15 483.48 C598.52 483.46 598.89 483.44 599.26 483.42 C599.63 483.39 600 483.37 600.36 483.35 C600.73 483.33 601.1 483.3 601.47 483.28 C601.84 483.26 602.21 483.24 602.57 483.22 C602.94 483.19 603.31 483.17 603.68 483.15 C604.05 483.13 604.42 483.11 604.78 483.08 C605.15 483.06 605.52 483.04 605.89 483.02 C606.26 482.99 606.63 482.97 606.99 482.95 C607.36 482.93 607.73 482.91 608.1 482.88 C608.47 482.86 608.84 482.84 609.2 482.82 C609.57 482.8 609.94 482.79 610.31 482.77 C610.68 482.76 611.05 482.74 611.41 482.73 C611.78 482.71 612.15 482.7 612.52 482.68 C612.89 482.67 613.26 482.65 613.62 482.64 C613.99 482.62 614.36 482.61 614.73 482.59 C615.1 482.58 615.47 482.57 615.83 482.55 C616.2 482.54 616.57 482.52 616.94 482.51 C617.31 482.49 617.68 482.48 618.04 482.46 C618.41 482.45 618.78 482.43 619.15 482.42 C619.52 482.4 619.89 482.39 620.25 482.37 C620.62 482.36 620.99 482.34 621.36 482.33 C621.73 482.31 622.1 482.3 622.46 482.28 C622.83 482.27 623.2 482.25 623.57 482.24 C623.94 482.23 624.31 482.21 624.67 482.2 C625.04 482.18 625.59 482.16 625.78 482.15" stroke="#000000" stroke-width="1.5" fill="none" stroke-linejoin="round" opacity="1"/>
<path d="M450.08 479.28 C450.27 479.29 450.82 479.34 451.19 479.36 C451.56 479.39 451.93 479.42 452.29 479.45 C452.66 479.47 453.03 479.5 453.4 479.53 C453.77 479.56 454.14 479.58 454.5 479.61 C454.87 479.64 455.24 479.67 455.61 479.7 C455.98 479.72 456.35 479.75 456.71 479.78 C457.08 479.81 457.45 479.83 457.82 479.86 C458.19 479.89 458.56 479.92 458.92 479.95 C459.29 479.97 459.66 480 460.03 480.03 C460.4 480.06 460.77 480.08 461.13 480.11 C461.5 480.14 461.87 480.17 462.24 480.19 C462.61 480.22 462.98 480.25 463.34 480.28 C463.71 480.31 464.08 480.33 464.45 480.36 C464.82 480.39 465.19 480.42 465.55 480.44 C465.92 480.47 466.29 480.5 466.66 480.53 C467.03 480.55 467.4 480.57 467.76 480.61 C468.13 480.65 468.5 480.73 468.87 480.78 C469.24 480.84 469.61 480.9 469.97 480.96 C470.34 481.01 470.71 481.07 471.08 481.13 C471.45 481.19 471.82 481.24 472.18 481.3 C472.55 481.36 472.92 481.42 473.29 481.47 C473.66 481.53 474.03 481.59 474.39 481.65 C474.76 481.71 475.13 481.76 475.5 481.82 C475.87 481.88 476.24 481.94 476.6 481.99 C476.97 482.05 477.34 482.11 477.71 482.17 C478.08 482.22 478.45 482.28 478.81 482.34 C479.18 482.4 479.55 482.46 479.92 482.51 C480.29 482.57 480.66 482.62 481.02 482.69 C481.39 482.75 481.76 482.84 482.13 482.92 C482.5 482.99 482.87 483.07 483.23 483.15 C483.6 483.22 483.97 483.3 484.34 483.38 C484.71 483.45 485.08 483.53 485.44 483.61 C485.81 483.68 486.18 483.76 486.55 483.84 C486.92 483.91 487.29 484.02 487.65 484.07 C488.02 484.11 488.39 484.1 488.76 484.12 C489.13 484.13 489.5 484.15 489.86 484.16 C490.23 484.18 490.6 484.2 490.97 484.21 C491.34 484.23 491.71 484.27 492.07 484.26 C492.44 484.26 492.81 484.29 493.18 484.18 C493.55 484.07 493.92 483.78 494.28 483.59 C494.65 483.39 495.02 483.19 495.39 482.99 C495.76 482.79 496.13 482.67 496.49 482.39 C496.86 482.12 497.23 481.69 497.6 481.34 C497.97 480.98 498.34 480.63 498.7 480.28 C499.07 479.93 499.44 479.58 499.81 479.22 C500.18 478.86 500.55 478.51 500.91 478.14 C501.28 477.78 501.65 477.41 502.02 477.05 C502.39 476.68 502.76 476.31 503.12 475.95 C503.49 475.58 503.86 475.21 504.23 474.85 C504.6 474.49 504.97 474.17 505.33 473.78 C505.7 473.4 506.07 472.96 506.44 472.54 C506.81 472.13 507.18 471.71 507.54 471.3 C507.91 470.88 508.28 470.53 508.65 470.06 C509.02 469.58 509.39 469.18 509.75 468.47 C510.12 467.77 510.49 466.71 510.86 465.83 C511.23 464.94 511.6 464.12 511.96 463.18 C512.33 462.24 512.7 461.41 513.07 460.2 C513.44 458.99 513.81 457.38 514.17 455.9 C514.54 454.43 514.91 453.04 515.28 451.34 C515.65 449.64 516.02 447.96 516.38 445.69 C516.75 443.42 517.12 440.38 517.49 437.72 C517.86 435.07 518.23 432.43 518.59 429.75 C518.96 427.07 519.33 424.44 519.7 421.64 C520.07 418.85 520.44 415.86 520.8 412.97 C521.17 410.08 521.54 407.19 521.91 404.3 C522.28 401.41 522.65 397.95 523.01 395.63 C523.38 393.3 523.75 392.11 524.12 390.34 C524.49 388.58 524.86 386.7 525.22 385.06 C525.59 383.43 525.96 381.54 526.33 380.53 C526.7 379.52 527.07 379.35 527.43 378.99 C527.8 378.64 528.17 377.97 528.54 378.41 C528.91 378.86 529.28 380.46 529.64 381.65 C530.01 382.84 530.38 383.81 530.75 385.56 C531.12 387.32 531.49 389.98 531.85 392.18 C532.22 394.39 532.59 396.7 532.96 398.81 C533.33 400.91 533.7 402.83 534.06 404.8 C534.43 406.77 534.8 408.9 535.17 410.63 C535.54 412.36 535.91 413.98 536.27 415.17 C536.64 416.37 537.01 416.92 537.38 417.79 C537.75 418.66 538.12 420.4 538.48 420.4 C538.85 420.4 539.22 418.66 539.59 417.79 C539.96 416.92 540.33 416.37 540.69 415.17 C541.06 413.98 541.43 412.36 541.8 410.63 C542.17 408.9 542.54 406.77 542.9 404.8 C543.27 402.83 543.64 400.91 544.01 398.81 C544.38 396.7 544.75 394.39 545.11 392.18 C545.48 389.98 545.85 387.32 546.22 385.56 C546.59 383.81 546.96 382.84 547.32 381.65 C547.69 380.46 548.06 378.86 548.43 378.41 C548.8 377.97 549.17 378.64 549.53 378.99 C549.9 379.35 550.27 379.52 550.64 380.53 C551.01 381.54 551.38 383.43 551.74 385.06 C552.11 386.7 552.48 388.58 552.85 390.34 C553.22 392.11 553.59 393.3 553.95 395.63 C554.32 397.95 554.69 401.41 555.06 404.3 C555.43 407.19 555.8 410.08 556.16 412.97 C556.53 415.86 556.9 418.85 557.27 421.64 C557.64 424.44 558.01 427.07 558.37 429.75 C558.74 432.43 559.11 435.07 559.48 437.72 C559.85 440.38 560.22 443.42 560.58 445.69 C560.95 447.96 561.32 449.64 561.69 451.34 C562.06 453.04 562.43 454.43 562.79 455.9 C563.16 457.38 563.53 458.99 563.9 460.2 C564.27 461.41 564.64 462.24 565 463.18 C565.37 464.12 565.74 464.94 566.11 465.83 C566.48 466.71 566.85 467.77 567.21 468.47 C567.58 469.18 567.95 469.58 568.32 470.06 C568.69 470.53 569.06 470.88 569.42 471.3 C569.79 471.71 570.16 472.13 570.53 472.54 C570.9 472.96 571.27 473.4 571.63 473.78 C572 474.17 572.37 474.49 572.74 474.85 C573.11 475.21 573.48 475.58 573.84 475.95 C574.21 476.31 574.58 476.68 574.95 477.05 C575.32 477.41 575.69 477.78 576.05 478.14 C576.42 478.51 576.79 478.86 577.16 479.22 C577.53 479.58 577.9 479.93 578.26 480.28 C578.63 480.63 579 480.98 579.37 481.34 C579.74 481.69 580.11 482.12 580.47 482.39 C580.84 482.67 581.21 482.79 581.58 482.99 C581.95 483.19 582.32 483.39 582.68 483.59 C583.05 483.78 583.42 484.07 583.79 484.18 C584.16 484.29 584.53 484.26 584.89 484.26 C585.26 484.27 585.63 484.23 586 484.21 C586.37 484.2 586.74 484.18 587.1 484.16 C587.47 484.15 587.84 484.13 588.21 484.12 C588.58 484.1 588.95 484.11 589.31 484.07 C589.68 484.02 590.05 483.91 590.42 483.84 C590.79 483.76 591.16 483.68 591.52 483.61 C591.89 483.53 592.26 483.45 592.63 483.38 C593 483.3 593.37 483.22 593.73 483.15 C594.1 483.07 594.47 482.99 594.84 482.92 C595.21 482.84 595.58 482.75 595.94 482.69 C596.31 482.62 596.68 482.57 597.05 482.51 C597.42 482.46 597.79 482.4 598.15 482.34 C598.52 482.28 598.89 482.22 599.26 482.17 C599.63 482.11 600 482.05 600.36 481.99 C600.73 481.94 601.1 481.88 601.47 481.82 C601.84 481.76 602.21 481.71 602.57 481.65 C602.94 481.59 603.31 481.53 603.68 481.47 C604.05 481.42 604.42 481.36 604.78 481.3 C605.15 481.24 605.52 481.19 605.89 481.13 C606.26 481.07 606.63 481.01 606.99 480.96 C607.36 480.9 607.73 480.84 608.1 480.78 C608.47 480.73 608.84 480.65 609.2 480.61 C609.57 480.57 609.94 480.55 610.31 480.53 C610.68 480.5 611.05 480.47 611.41 480.44 C611.78 480.42 612.15 480.39 612.52 480.36 C612.89 480.33 613.26 480.31 613.62 480.28 C613.99 480.25 614.36 480.22 614.73 480.19 C615.1 480.17 615.47 480.14 615.83 480.11 C616.2 480.08 616.57 480.06 616.94 480.03 C617.31 480 617.68 479.97 618.04 479.95 C618.41 479.92 618.78 479.89 619.15 479.86 C619.52 479.83 619.89 479.81 620.25 479.78 C620.62 479.75 620.99 479.72 621.36 479.7 C621.73 479.67 622.1 479.64 622.46 479.61 C622.83 479.58 623.2 479.56 623.57 479.53 C623.94 479.5 624.31 479.47 624.67 479.45 C625.04 479.42 625.59 479.38 625.78 479.36" stroke="#ff0000" stroke-width="1.5" fill="none" stroke-linejoin="round" opacity="1"/>
<path d="M450.08 477.4 C450.27 477.42 450.82 477.48 451.19 477.51 C451.56 477.55 451.93 477.59 452.29 477.62 C452.66 477.66 453.03 477.69 453.4 477.73 C453.77 477.77 454.14 477.8 454.5 477.84 C454.87 477.88 455.24 477.91 455.61 477.95 C455.98 477.98 456.35 478.02 456.71 478.06 C457.08 478.09 457.45 478.13 457.82 478.17 C458.19 478.2 458.56 478.24 458.92 478.27 C459.29 478.31 459.66 478.35 460.03 478.38 C460.4 478.42 460.77 478.46 461.13 478.49 C461.5 478.53 461.87 478.56 462.24 478.6 C462.61 478.64 462.98 478.67 463.34 478.71 C463.71 478.75 464.08 478.78 464.45 478.82 C464.82 478.85 465.19 478.89 465.55 478.93 C465.92 478.96 466.29 479 466.66 479.04 C467.03 479.07 467.4 479.09 467.76 479.14 C468.13 479.2 468.5 479.31 468.87 479.39 C469.24 479.47 469.61 479.55 469.97 479.63 C470.34 479.71 470.71 479.79 471.08 479.88 C471.45 479.96 471.82 480.04 472.18 480.12 C472.55 480.2 472.92 480.28 473.29 480.36 C473.66 480.44 474.03 480.53 474.39 480.61 C474.76 480.69 475.13 480.77 475.5 480.85 C475.87 480.93 476.24 481.01 476.6 481.09 C476.97 481.18 477.34 481.26 477.71 481.34 C478.08 481.42 478.45 481.5 478.81 481.58 C479.18 481.66 479.55 481.74 479.92 481.83 C480.29 481.91 480.66 481.98 481.02 482.07 C481.39 482.16 481.76 482.27 482.13 482.38 C482.5 482.48 482.87 482.58 483.23 482.68 C483.6 482.79 483.97 482.89 484.34 482.99 C484.71 483.09 485.08 483.2 485.44 483.3 C485.81 483.4 486.18 483.5 486.55 483.61 C486.92 483.71 487.29 483.85 487.65 483.91 C488.02 483.98 488.39 483.97 488.76 483.99 C489.13 484.02 489.5 484.05 489.86 484.07 C490.23 484.1 490.6 484.13 490.97 484.16 C491.34 484.18 491.71 484.23 492.07 484.24 C492.44 484.24 492.81 484.29 493.18 484.17 C493.55 484.06 493.92 483.75 494.28 483.54 C494.65 483.33 495.02 483.11 495.39 482.9 C495.76 482.69 496.13 482.56 496.49 482.27 C496.86 481.97 497.23 481.51 497.6 481.14 C497.97 480.76 498.34 480.38 498.7 480.01 C499.07 479.63 499.44 479.26 499.81 478.88 C500.18 478.5 500.55 478.12 500.91 477.73 C501.28 477.35 501.65 476.95 502.02 476.57 C502.39 476.18 502.76 475.79 503.12 475.4 C503.49 475.01 503.86 474.62 504.23 474.23 C504.6 473.85 504.97 473.53 505.33 473.09 C505.7 472.65 506.07 472.09 506.44 471.59 C506.81 471.09 507.18 470.59 507.54 470.09 C507.91 469.59 508.28 469.13 508.65 468.59 C509.02 468.05 509.39 467.65 509.75 466.87 C510.12 466.08 510.49 464.88 510.86 463.88 C511.23 462.89 511.6 461.93 511.96 460.9 C512.33 459.87 512.7 458.91 513.07 457.7 C513.44 456.48 513.81 455.06 514.17 453.62 C514.54 452.19 514.91 450.91 515.28 449.1 C515.65 447.3 516.02 445.15 516.38 442.78 C516.75 440.42 517.12 437.55 517.49 434.94 C517.86 432.32 518.23 429.73 518.59 427.09 C518.96 424.45 519.33 421.85 519.7 419.11 C520.07 416.36 520.44 413.43 520.8 410.59 C521.17 407.76 521.54 404.92 521.91 402.08 C522.28 399.25 522.65 395.78 523.01 393.57 C523.38 391.36 523.75 390.42 524.12 388.84 C524.49 387.26 524.86 385.57 525.22 384.11 C525.59 382.64 525.96 380.95 526.33 380.06 C526.7 379.17 527.07 379.06 527.43 378.76 C527.8 378.45 528.17 377.89 528.54 378.24 C528.91 378.59 529.28 379.89 529.64 380.86 C530.01 381.82 530.38 382.6 530.75 384.02 C531.12 385.44 531.49 387.58 531.85 389.36 C532.22 391.14 532.59 393.01 532.96 394.69 C533.33 396.38 533.7 397.91 534.06 399.48 C534.43 401.06 534.8 402.76 535.17 404.14 C535.54 405.52 535.91 406.81 536.27 407.75 C536.64 408.69 537.01 409.12 537.38 409.8 C537.75 410.48 538.12 411.85 538.48 411.85 C538.85 411.85 539.22 410.48 539.59 409.8 C539.96 409.12 540.33 408.69 540.69 407.75 C541.06 406.81 541.43 405.52 541.8 404.14 C542.17 402.76 542.54 401.06 542.9 399.48 C543.27 397.91 543.64 396.38 544.01 394.69 C544.38 393.01 544.75 391.14 545.11 389.36 C545.48 387.58 545.85 385.44 546.22 384.02 C546.59 382.6 546.96 381.82 547.32 380.86 C547.69 379.89 548.06 378.59 548.43 378.24 C548.8 377.89 549.17 378.45 549.53 378.76 C549.9 379.06 550.27 379.17 550.64 380.06 C551.01 380.95 551.38 382.64 551.74 384.11 C552.11 385.57 552.48 387.26 552.85 388.84 C553.22 390.42 553.59 391.36 553.95 393.57 C554.32 395.78 554.69 399.25 555.06 402.08 C555.43 404.92 555.8 407.76 556.16 410.59 C556.53 413.43 556.9 416.36 557.27 419.11 C557.64 421.85 558.01 424.45 558.37 427.09 C558.74 429.73 559.11 432.32 559.48 434.94 C559.85 437.55 560.22 440.42 560.58 442.78 C560.95 445.15 561.32 447.3 561.69 449.1 C562.06 450.91 562.43 452.19 562.79 453.62 C563.16 455.06 563.53 456.48 563.9 457.7 C564.27 458.91 564.64 459.87 565 460.9 C565.37 461.93 565.74 462.89 566.11 463.88 C566.48 464.88 566.85 466.08 567.21 466.87 C567.58 467.65 567.95 468.05 568.32 468.59 C568.69 469.13 569.06 469.59 569.42 470.09 C569.79 470.59 570.16 471.09 570.53 471.59 C570.9 472.09 571.27 472.65 571.63 473.09 C572 473.53 572.37 473.85 572.74 474.23 C573.11 474.62 573.48 475.01 573.84 475.4 C574.21 475.79 574.58 476.18 574.95 476.57 C575.32 476.95 575.69 477.35 576.05 477.73 C576.42 478.12 576.79 478.5 577.16 478.88 C577.53 479.26 577.9 479.63 578.26 480.01 C578.63 480.38 579 480.76 579.37 481.14 C579.74 481.51 580.11 481.97 580.47 482.27 C580.84 482.56 581.21 482.69 581.58 482.9 C581.95 483.11 582.32 483.33 582.68 483.54 C583.05 483.75 583.42 484.06 583.79 484.17 C584.16 484.29 584.53 484.24 584.89 484.24 C585.26 484.23 585.63 484.18 586 484.16 C586.37 484.13 586.74 484.1 587.1 484.07 C587.47 484.05 587.84 484.02 588.21 483.99 C588.58 483.97 588.95 483.98 589.31 483.91 C589.68 483.85 590.05 483.71 590.42 483.61 C590.79 483.5 591.16 483.4 591.52 483.3 C591.89 483.2 592.26 483.09 592.63 482.99 C593 482.89 593.37 482.79 593.73 482.68 C594.1 482.58 594.47 482.48 594.84 482.38 C595.21 482.27 595.58 482.16 595.94 482.07 C596.31 481.98 596.68 481.91 597.05 481.83 C597.42 481.74 597.79 481.66 598.15 481.58 C598.52 481.5 598.89 481.42 599.26 481.34 C599.63 481.26 600 481.18 600.36 481.09 C600.73 481.01 601.1 480.93 601.47 480.85 C601.84 480.77 602.21 480.69 602.57 480.61 C602.94 480.53 603.31 480.44 603.68 480.36 C604.05 480.28 604.42 480.2 604.78 480.12 C605.15 480.04 605.52 479.96 605.89 479.88 C606.26 479.79 606.63 479.71 606.99 479.63 C607.36 479.55 607.73 479.47 608.1 479.39 C608.47 479.31 608.84 479.2 609.2 479.14 C609.57 479.09 609.94 479.07 610.31 479.04 C610.68 479 611.05 478.96 611.41 478.93 C611.78 478.89 612.15 478.85 612.52 478.82 C612.89 478.78 613.26 478.75 613.62 478.71 C613.99 478.67 614.36 478.64 614.73 478.6 C615.1 478.56 615.47 478.53 615.83 478.49 C616.2 478.46 616.57 478.42 616.94 478.38 C617.31 478.35 617.68 478.31 618.04 478.27 C618.41 478.24 618.78 478.2 619.15 478.17 C619.52 478.13 619.89 478.09 620.25 478.06 C620.62 478.02 620.99 477.98 621.36 477.95 C621.73 477.91 622.1 477.88 622.46 477.84 C622.83 477.8 623.2 477.77 623.57 477.73 C623.94 477.69 624.31 477.66 624.67 477.62 C625.04 477.59 625.59 477.53 625.78 477.51" stroke="#0000ff" stroke-width="1.5" fill="none" stroke-linejoin="round" opacity="1"/>
<path d="M450.08 475.78 C450.27 475.8 450.82 475.87 451.19 475.91 C451.56 475.95 451.93 476 452.29 476.04 C452.66 476.08 453.03 476.13 453.4 476.17 C453.77 476.22 454.14 476.26 454.5 476.3 C454.87 476.35 455.24 476.39 455.61 476.43 C455.98 476.48 456.35 476.52 456.71 476.56 C457.08 476.61 457.45 476.65 457.82 476.7 C458.19 476.74 458.56 476.78 458.92 476.83 C459.29 476.87 459.66 476.91 460.03 476.96 C460.4 477 460.77 477.05 461.13 477.09 C461.5 477.13 461.87 477.18 462.24 477.22 C462.61 477.26 462.98 477.31 463.34 477.35 C463.71 477.39 464.08 477.44 464.45 477.48 C464.82 477.53 465.19 477.57 465.55 477.61 C465.92 477.66 466.29 477.7 466.66 477.74 C467.03 477.79 467.4 477.8 467.76 477.88 C468.13 477.95 468.5 478.08 468.87 478.18 C469.24 478.28 469.61 478.38 469.97 478.49 C470.34 478.59 470.71 478.69 471.08 478.79 C471.45 478.89 471.82 478.99 472.18 479.1 C472.55 479.2 472.92 479.3 473.29 479.4 C473.66 479.5 474.03 479.6 474.39 479.71 C474.76 479.81 475.13 479.91 475.5 480.01 C475.87 480.11 476.24 480.21 476.6 480.32 C476.97 480.42 477.34 480.52 477.71 480.62 C478.08 480.72 478.45 480.82 478.81 480.92 C479.18 481.03 479.55 481.13 479.92 481.23 C480.29 481.33 480.66 481.42 481.02 481.53 C481.39 481.65 481.76 481.78 482.13 481.91 C482.5 482.03 482.87 482.16 483.23 482.28 C483.6 482.41 483.97 482.53 484.34 482.66 C484.71 482.78 485.08 482.91 485.44 483.03 C485.81 483.16 486.18 483.28 486.55 483.41 C486.92 483.53 487.29 483.7 487.65 483.78 C488.02 483.86 488.39 483.85 488.76 483.89 C489.13 483.92 489.5 483.96 489.86 484 C490.23 484.03 490.6 484.07 490.97 484.1 C491.34 484.14 491.71 484.2 492.07 484.21 C492.44 484.22 492.81 484.29 493.18 484.17 C493.55 484.05 493.92 483.72 494.28 483.5 C494.65 483.27 495.02 483.05 495.39 482.83 C495.76 482.6 496.13 482.47 496.49 482.16 C496.86 481.84 497.23 481.36 497.6 480.96 C497.97 480.57 498.34 480.17 498.7 479.77 C499.07 479.37 499.44 478.98 499.81 478.58 C500.18 478.18 500.55 477.78 500.91 477.38 C501.28 476.97 501.65 476.56 502.02 476.15 C502.39 475.74 502.76 475.33 503.12 474.93 C503.49 474.52 503.86 474.11 504.23 473.7 C504.6 473.29 504.97 472.98 505.33 472.49 C505.7 472 506.07 471.34 506.44 470.77 C506.81 470.19 507.18 469.62 507.54 469.04 C507.91 468.47 508.28 467.92 508.65 467.32 C509.02 466.73 509.39 466.33 509.75 465.48 C510.12 464.62 510.49 463.29 510.86 462.2 C511.23 461.11 511.6 460.03 511.96 458.92 C512.33 457.81 512.7 456.74 513.07 455.52 C513.44 454.31 513.81 453.04 514.17 451.65 C514.54 450.25 514.91 449.06 515.28 447.17 C515.65 445.27 516.02 442.71 516.38 440.27 C516.75 437.82 517.12 435.1 517.49 432.52 C517.86 429.94 518.23 427.38 518.59 424.78 C518.96 422.17 519.33 419.61 519.7 416.91 C520.07 414.2 520.44 411.33 520.8 408.53 C521.17 405.74 521.54 402.95 521.91 400.16 C522.28 397.37 522.65 393.89 523.01 391.79 C523.38 389.69 523.75 388.95 524.12 387.54 C524.49 386.12 524.86 384.59 525.22 383.28 C525.59 381.97 525.96 380.44 526.33 379.66 C526.7 378.87 527.07 378.81 527.43 378.55 C527.8 378.29 528.17 377.82 528.54 378.09 C528.91 378.36 529.28 379.41 529.64 380.17 C530.01 380.94 530.38 381.56 530.75 382.68 C531.12 383.81 531.49 385.5 531.85 386.91 C532.22 388.31 532.59 389.8 532.96 391.13 C533.33 392.46 533.7 393.65 534.06 394.88 C534.43 396.11 534.8 397.44 535.17 398.52 C535.54 399.59 535.91 400.59 536.27 401.32 C536.64 402.04 537.01 402.36 537.38 402.87 C537.75 403.39 538.12 404.43 538.48 404.43 C538.85 404.43 539.22 403.39 539.59 402.87 C539.96 402.36 540.33 402.04 540.69 401.32 C541.06 400.59 541.43 399.59 541.8 398.52 C542.17 397.44 542.54 396.11 542.9 394.88 C543.27 393.65 543.64 392.46 544.01 391.13 C544.38 389.8 544.75 388.31 545.11 386.91 C545.48 385.5 545.85 383.81 546.22 382.68 C546.59 381.56 546.96 380.94 547.32 380.17 C547.69 379.41 548.06 378.36 548.43 378.09 C548.8 377.82 549.17 378.29 549.53 378.55 C549.9 378.81 550.27 378.87 550.64 379.66 C551.01 380.44 551.38 381.97 551.74 383.28 C552.11 384.59 552.48 386.12 552.85 387.54 C553.22 388.95 553.59 389.69 553.95 391.79 C554.32 393.89 554.69 397.37 555.06 400.16 C555.43 402.95 555.8 405.74 556.16 408.53 C556.53 411.33 556.9 414.2 557.27 416.91 C557.64 419.61 558.01 422.17 558.37 424.78 C558.74 427.38 559.11 429.94 559.48 432.52 C559.85 435.1 560.22 437.82 560.58 440.27 C560.95 442.71 561.32 445.27 561.69 447.17 C562.06 449.06 562.43 450.25 562.79 451.65 C563.16 453.04 563.53 454.31 563.9 455.52 C564.27 456.74 564.64 457.81 565 458.92 C565.37 460.03 565.74 461.11 566.11 462.2 C566.48 463.29 566.85 464.62 567.21 465.48 C567.58 466.33 567.95 466.73 568.32 467.32 C568.69 467.92 569.06 468.47 569.42 469.04 C569.79 469.62 570.16 470.19 570.53 470.77 C570.9 471.34 571.27 472 571.63 472.49 C572 472.98 572.37 473.29 572.74 473.7 C573.11 474.11 573.48 474.52 573.84 474.93 C574.21 475.33 574.58 475.74 574.95 476.15 C575.32 476.56 575.69 476.97 576.05 477.38 C576.42 477.78 576.79 478.18 577.16 478.58 C577.53 478.98 577.9 479.37 578.26 479.77 C578.63 480.17 579 480.57 579.37 480.96 C579.74 481.36 580.11 481.84 580.47 482.16 C580.84 482.47 581.21 482.6 581.58 482.83 C581.95 483.05 582.32 483.27 582.68 483.5 C583.05 483.72 583.42 484.05 583.79 484.17 C584.16 484.29 584.53 484.22 584.89 484.21 C585.26 484.2 585.63 484.14 586 484.1 C586.37 484.07 586.74 484.03 587.1 484 C587.47 483.96 587.84 483.92 588.21 483.89 C588.58 483.85 588.95 483.86 589.31 483.78 C589.68 483.7 590.05 483.53 590.42 483.41 C590.79 483.28 591.16 483.16 591.52 483.03 C591.89 482.91 592.26 482.78 592.63 482.66 C593 482.53 593.37 482.41 593.73 482.28 C594.1 482.16 594.47 482.03 594.84 481.91 C595.21 481.78 595.58 481.65 595.94 481.53 C596.31 481.42 596.68 481.33 597.05 481.23 C597.42 481.13 597.79 481.03 598.15 480.92 C598.52 480.82 598.89 480.72 599.26 480.62 C599.63 480.52 600 480.42 600.36 480.32 C600.73 480.21 601.1 480.11 601.47 480.01 C601.84 479.91 602.21 479.81 602.57 479.71 C602.94 479.6 603.31 479.5 603.68 479.4 C604.05 479.3 604.42 479.2 604.78 479.1 C605.15 478.99 605.52 478.89 605.89 478.79 C606.26 478.69 606.63 478.59 606.99 478.49 C607.36 478.38 607.73 478.28 608.1 478.18 C608.47 478.08 608.84 477.95 609.2 477.88 C609.57 477.8 609.94 477.79 610.31 477.74 C610.68 477.7 611.05 477.66 611.41 477.61 C611.78 477.57 612.15 477.53 612.52 477.48 C612.89 477.44 613.26 477.39 613.62 477.35 C613.99 477.31 614.36 477.26 614.73 477.22 C615.1 477.18 615.47 477.13 615.83 477.09 C616.2 477.05 616.57 477 616.94 476.96 C617.31 476.91 617.68 476.87 618.04 476.83 C618.41 476.78 618.78 476.74 619.15 476.7 C619.52 476.65 619.89 476.61 620.25 476.56 C620.62 476.52 620.99 476.48 621.36 476.43 C621.73 476.39 622.1 476.35 622.46 476.3 C622.83 476.26 623.2 476.22 623.57 476.17 C623.94 476.13 624.31 476.08 624.67 476.04 C625.04 476 625.59 475.93 625.78 475.91" stroke="#ff00ff" stroke-width="1.5" fill="none" stroke-linejoin="round" opacity="1"/>
<path d="M450.08 474.53 C450.27 474.55 450.82 474.63 451.19 474.68 C451.56 474.73 451.93 474.77 452.29 474.82 C452.66 474.87 453.03 474.92 453.4 474.97 C453.77 475.02 454.14 475.07 454.5 475.12 C454.87 475.17 455.24 475.22 455.61 475.27 C455.98 475.32 456.35 475.37 456.71 475.42 C457.08 475.47 457.45 475.52 457.82 475.57 C458.19 475.61 458.56 475.66 458.92 475.71 C459.29 475.76 459.66 475.81 460.03 475.86 C460.4 475.91 460.77 475.96 461.13 476.01 C461.5 476.06 461.87 476.11 462.24 476.16 C462.61 476.21 462.98 476.26 463.34 476.31 C463.71 476.36 464.08 476.4 464.45 476.45 C464.82 476.5 465.19 476.55 465.55 476.6 C465.92 476.65 466.29 476.7 466.66 476.75 C467.03 476.8 467.4 476.82 467.76 476.9 C468.13 476.98 468.5 477.13 468.87 477.25 C469.24 477.37 469.61 477.49 469.97 477.6 C470.34 477.72 470.71 477.84 471.08 477.96 C471.45 478.07 471.82 478.19 472.18 478.31 C472.55 478.42 472.92 478.54 473.29 478.66 C473.66 478.78 474.03 478.89 474.39 479.01 C474.76 479.13 475.13 479.25 475.5 479.36 C475.87 479.48 476.24 479.6 476.6 479.72 C476.97 479.83 477.34 479.95 477.71 480.07 C478.08 480.18 478.45 480.3 478.81 480.42 C479.18 480.54 479.55 480.65 479.92 480.77 C480.29 480.89 480.66 480.99 481.02 481.12 C481.39 481.25 481.76 481.41 482.13 481.55 C482.5 481.69 482.87 481.83 483.23 481.97 C483.6 482.12 483.97 482.26 484.34 482.4 C484.71 482.54 485.08 482.68 485.44 482.83 C485.81 482.97 486.18 483.11 486.55 483.25 C486.92 483.39 487.29 483.58 487.65 483.68 C488.02 483.77 488.39 483.76 488.76 483.81 C489.13 483.85 489.5 483.89 489.86 483.94 C490.23 483.98 490.6 484.02 490.97 484.07 C491.34 484.11 491.71 484.18 492.07 484.2 C492.44 484.21 492.81 484.28 493.18 484.16 C493.55 484.04 493.92 483.7 494.28 483.46 C494.65 483.23 495.02 483 495.39 482.77 C495.76 482.53 496.13 482.39 496.49 482.07 C496.86 481.75 497.23 481.24 497.6 480.83 C497.97 480.42 498.34 480 498.7 479.59 C499.07 479.18 499.44 478.77 499.81 478.35 C500.18 477.94 500.55 477.52 500.91 477.1 C501.28 476.68 501.65 476.25 502.02 475.83 C502.39 475.41 502.76 474.98 503.12 474.56 C503.49 474.14 503.86 473.71 504.23 473.29 C504.6 472.87 504.97 472.55 505.33 472.03 C505.7 471.5 506.07 470.76 506.44 470.13 C506.81 469.5 507.18 468.87 507.54 468.24 C507.91 467.61 508.28 466.98 508.65 466.34 C509.02 465.71 509.39 465.31 509.75 464.4 C510.12 463.5 510.49 462.07 510.86 460.9 C511.23 459.74 511.6 458.58 511.96 457.4 C512.33 456.23 512.7 455.07 513.07 453.85 C513.44 452.64 513.81 451.49 514.17 450.13 C514.54 448.76 514.91 447.64 515.28 445.68 C515.65 443.71 516.02 440.83 516.38 438.33 C516.75 435.83 517.12 433.22 517.49 430.66 C517.86 428.11 518.23 425.57 518.59 423 C518.96 420.42 519.33 417.89 519.7 415.21 C520.07 412.54 520.44 409.7 520.8 406.95 C521.17 404.19 521.54 401.44 521.91 398.68 C522.28 395.93 522.65 392.44 523.01 390.42 C523.38 388.39 523.75 387.83 524.12 386.53 C524.49 385.24 524.86 383.84 525.22 382.64 C525.59 381.45 525.96 380.05 526.33 379.34 C526.7 378.64 527.07 378.62 527.43 378.4 C527.8 378.17 528.17 377.76 528.54 377.97 C528.91 378.18 529.28 379.03 529.64 379.64 C530.01 380.26 530.38 380.76 530.75 381.66 C531.12 382.55 531.49 383.9 531.85 385.02 C532.22 386.14 532.59 387.34 532.96 388.39 C533.33 389.44 533.7 390.37 534.06 391.34 C534.43 392.31 534.8 393.35 535.17 394.19 C535.54 395.03 535.91 395.81 536.27 396.37 C536.64 396.93 537.01 397.15 537.38 397.55 C537.75 397.94 538.12 398.73 538.48 398.73 C538.85 398.73 539.22 397.94 539.59 397.55 C539.96 397.15 540.33 396.93 540.69 396.37 C541.06 395.81 541.43 395.03 541.8 394.19 C542.17 393.35 542.54 392.31 542.9 391.34 C543.27 390.37 543.64 389.44 544.01 388.39 C544.38 387.34 544.75 386.14 545.11 385.02 C545.48 383.9 545.85 382.55 546.22 381.66 C546.59 380.76 546.96 380.26 547.32 379.64 C547.69 379.03 548.06 378.18 548.43 377.97 C548.8 377.76 549.17 378.17 549.53 378.4 C549.9 378.62 550.27 378.64 550.64 379.34 C551.01 380.05 551.38 381.45 551.74 382.64 C552.11 383.84 552.48 385.24 552.85 386.53 C553.22 387.83 553.59 388.39 553.95 390.42 C554.32 392.44 554.69 395.93 555.06 398.68 C555.43 401.44 555.8 404.19 556.16 406.95 C556.53 409.7 556.9 412.54 557.27 415.21 C557.64 417.89 558.01 420.42 558.37 423 C558.74 425.57 559.11 428.11 559.48 430.66 C559.85 433.22 560.22 435.83 560.58 438.33 C560.95 440.83 561.32 443.71 561.69 445.68 C562.06 447.64 562.43 448.76 562.79 450.13 C563.16 451.49 563.53 452.64 563.9 453.85 C564.27 455.07 564.64 456.23 565 457.4 C565.37 458.58 565.74 459.74 566.11 460.9 C566.48 462.07 566.85 463.5 567.21 464.4 C567.58 465.31 567.95 465.71 568.32 466.34 C568.69 466.98 569.06 467.61 569.42 468.24 C569.79 468.87 570.16 469.5 570.53 470.13 C570.9 470.76 571.27 471.5 571.63 472.03 C572 472.55 572.37 472.87 572.74 473.29 C573.11 473.71 573.48 474.14 573.84 474.56 C574.21 474.98 574.58 475.41 574.95 475.83 C575.32 476.25 575.69 476.68 576.05 477.1 C576.42 477.52 576.79 477.94 577.16 478.35 C577.53 478.77 577.9 479.18 578.26 479.59 C578.63 480 579 480.42 579.37 480.83 C579.74 481.24 580.11 481.75 580.47 482.07 C580.84 482.39 581.21 482.53 581.58 482.77 C581.95 483 582.32 483.23 582.68 483.46 C583.05 483.7 583.42 484.04 583.79 484.16 C584.16 484.28 584.53 484.21 584.89 484.2 C585.26 484.18 585.63 484.11 586 484.07 C586.37 484.02 586.74 483.98 587.1 483.94 C587.47 483.89 587.84 483.85 588.21 483.81 C588.58 483.76 588.95 483.77 589.31 483.68 C589.68 483.58 590.05 483.39 590.42 483.25 C590.79 483.11 591.16 482.97 591.52 482.83 C591.89 482.68 592.26 482.54 592.63 482.4 C593 482.26 593.37 482.12 593.73 481.97 C594.1 481.83 594.47 481.69 594.84 481.55 C595.21 481.41 595.58 481.25 595.94 481.12 C596.31 480.99 596.68 480.89 597.05 480.77 C597.42 480.65 597.79 480.54 598.15 480.42 C598.52 480.3 598.89 480.18 599.26 480.07 C599.63 479.95 600 479.83 600.36 479.72 C600.73 479.6 601.1 479.48 601.47 479.36 C601.84 479.25 602.21 479.13 602.57 479.01 C602.94 478.89 603.31 478.78 603.68 478.66 C604.05 478.54 604.42 478.42 604.78 478.31 C605.15 478.19 605.52 478.07 605.89 477.96 C606.26 477.84 606.63 477.72 606.99 477.6 C607.36 477.49 607.73 477.37 608.1 477.25 C608.47 477.13 608.84 476.98 609.2 476.9 C609.57 476.82 609.94 476.8 610.31 476.75 C610.68 476.7 611.05 476.65 611.41 476.6 C611.78 476.55 612.15 476.5 612.52 476.45 C612.89 476.4 613.26 476.36 613.62 476.31 C613.99 476.26 614.36 476.21 614.73 476.16 C615.1 476.11 615.47 476.06 615.83 476.01 C616.2 475.96 616.57 475.91 616.94 475.86 C617.31 475.81 617.68 475.76 618.04 475.71 C618.41 475.66 618.78 475.61 619.15 475.57 C619.52 475.52 619.89 475.47 620.25 475.42 C620.62 475.37 620.99 475.32 621.36 475.27 C621.73 475.22 622.1 475.17 622.46 475.12 C622.83 475.07 623.2 475.02 623.57 474.97 C623.94 474.92 624.31 474.87 624.67 474.82 C625.04 474.77 625.59 474.7 625.78 474.68" stroke="#008000" stroke-width="1.5" fill="none" stroke-linejoin="round" opacity="1"/>
<path d="M450.08 473.78 C450.27 473.8 450.82 473.88 451.19 473.94 C451.56 473.99 451.93 474.04 452.29 474.09 C452.66 474.15 453.03 474.2 453.4 474.25 C453.77 474.31 454.14 474.36 454.5 474.41 C454.87 474.46 455.24 474.52 455.61 474.57 C455.98 474.62 456.35 474.68 456.71 474.73 C457.08 474.78 457.45 474.83 457.82 474.89 C458.19 474.94 458.56 474.99 458.92 475.05 C459.29 475.1 459.66 475.15 460.03 475.2 C460.4 475.26 460.77 475.31 461.13 475.36 C461.5 475.41 461.87 475.47 462.24 475.52 C462.61 475.57 462.98 475.63 463.34 475.68 C463.71 475.73 464.08 475.78 464.45 475.84 C464.82 475.89 465.19 475.94 465.55 476 C465.92 476.05 466.29 476.1 466.66 476.15 C467.03 476.21 467.4 476.22 467.76 476.31 C468.13 476.4 468.5 476.57 468.87 476.69 C469.24 476.82 469.61 476.95 469.97 477.07 C470.34 477.2 470.71 477.33 471.08 477.45 C471.45 477.58 471.82 477.71 472.18 477.83 C472.55 477.96 472.92 478.09 473.29 478.21 C473.66 478.34 474.03 478.47 474.39 478.6 C474.76 478.72 475.13 478.85 475.5 478.98 C475.87 479.1 476.24 479.23 476.6 479.36 C476.97 479.48 477.34 479.61 477.71 479.74 C478.08 479.86 478.45 479.99 478.81 480.12 C479.18 480.24 479.55 480.37 479.92 480.5 C480.29 480.62 480.66 480.74 481.02 480.88 C481.39 481.02 481.76 481.18 482.13 481.33 C482.5 481.49 482.87 481.64 483.23 481.79 C483.6 481.94 483.97 482.09 484.34 482.25 C484.71 482.4 485.08 482.55 485.44 482.7 C485.81 482.85 486.18 483.01 486.55 483.16 C486.92 483.31 487.29 483.52 487.65 483.62 C488.02 483.72 488.39 483.71 488.76 483.76 C489.13 483.81 489.5 483.85 489.86 483.9 C490.23 483.95 490.6 484 490.97 484.04 C491.34 484.09 491.71 484.17 492.07 484.19 C492.44 484.2 492.81 484.28 493.18 484.16 C493.55 484.03 493.92 483.68 494.28 483.44 C494.65 483.21 495.02 482.97 495.39 482.73 C495.76 482.49 496.13 482.35 496.49 482.02 C496.86 481.69 497.23 481.17 497.6 480.75 C497.97 480.33 498.34 479.91 498.7 479.48 C499.07 479.06 499.44 478.64 499.81 478.21 C500.18 477.79 500.55 477.36 500.91 476.94 C501.28 476.51 501.65 476.07 502.02 475.64 C502.39 475.21 502.76 474.77 503.12 474.34 C503.49 473.91 503.86 473.48 504.23 473.05 C504.6 472.61 504.97 472.3 505.33 471.75 C505.7 471.2 506.07 470.42 506.44 469.75 C506.81 469.09 507.18 468.42 507.54 467.76 C507.91 467.09 508.28 466.42 508.65 465.76 C509.02 465.09 509.39 464.7 509.75 463.76 C510.12 462.82 510.49 461.34 510.86 460.13 C511.23 458.91 511.6 457.7 511.96 456.49 C512.33 455.28 512.7 454.06 513.07 452.85 C513.44 451.64 513.81 450.56 514.17 449.21 C514.54 447.87 514.91 446.79 515.28 444.78 C515.65 442.77 516.02 439.7 516.38 437.17 C516.75 434.63 517.12 432.09 517.49 429.55 C517.86 427.01 518.23 424.49 518.59 421.93 C518.96 419.37 519.33 416.86 519.7 414.2 C520.07 411.54 520.44 408.73 520.8 406 C521.17 403.27 521.54 400.53 521.91 397.8 C522.28 395.06 522.65 391.58 523.01 389.6 C523.38 387.62 523.75 387.15 524.12 385.93 C524.49 384.71 524.86 383.39 525.22 382.26 C525.59 381.13 525.96 379.82 526.33 379.16 C526.7 378.5 527.07 378.51 527.43 378.3 C527.8 378.09 528.17 377.73 528.54 377.9 C528.91 378.07 529.28 378.81 529.64 379.33 C530.01 379.85 530.38 380.28 530.75 381.04 C531.12 381.8 531.49 382.94 531.85 383.89 C532.22 384.84 532.59 385.86 532.96 386.74 C533.33 387.63 533.7 388.41 534.06 389.22 C534.43 390.02 534.8 390.9 535.17 391.59 C535.54 392.29 535.91 392.94 536.27 393.4 C536.64 393.86 537.01 394.03 537.38 394.35 C537.75 394.67 538.12 395.3 538.48 395.3 C538.85 395.3 539.22 394.67 539.59 394.35 C539.96 394.03 540.33 393.86 540.69 393.4 C541.06 392.94 541.43 392.29 541.8 391.59 C542.17 390.9 542.54 390.02 542.9 389.22 C543.27 388.41 543.64 387.63 544.01 386.74 C544.38 385.86 544.75 384.84 545.11 383.89 C545.48 382.94 545.85 381.8 546.22 381.04 C546.59 380.28 546.96 379.85 547.32 379.33 C547.69 378.81 548.06 378.07 548.43 377.9 C548.8 377.73 549.17 378.09 549.53 378.3 C549.9 378.51 550.27 378.5 550.64 379.16 C551.01 379.82 551.38 381.13 551.74 382.26 C552.11 383.39 552.48 384.71 552.85 385.93 C553.22 387.15 553.59 387.62 553.95 389.6 C554.32 391.58 554.69 395.06 555.06 397.8 C555.43 400.53 555.8 403.27 556.16 406 C556.53 408.73 556.9 411.54 557.27 414.2 C557.64 416.86 558.01 419.37 558.37 421.93 C558.74 424.49 559.11 427.01 559.48 429.55 C559.85 432.09 560.22 434.63 560.58 437.17 C560.95 439.7 561.32 442.77 561.69 444.78 C562.06 446.79 562.43 447.87 562.79 449.21 C563.16 450.56 563.53 451.64 563.9 452.85 C564.27 454.06 564.64 455.28 565 456.49 C565.37 457.7 565.74 458.91 566.11 460.13 C566.48 461.34 566.85 462.82 567.21 463.76 C567.58 464.7 567.95 465.09 568.32 465.76 C568.69 466.42 569.06 467.09 569.42 467.76 C569.79 468.42 570.16 469.09 570.53 469.75 C570.9 470.42 571.27 471.2 571.63 471.75 C572 472.3 572.37 472.61 572.74 473.05 C573.11 473.48 573.48 473.91 573.84 474.34 C574.21 474.77 574.58 475.21 574.95 475.64 C575.32 476.07 575.69 476.51 576.05 476.94 C576.42 477.36 576.79 477.79 577.16 478.21 C577.53 478.64 577.9 479.06 578.26 479.48 C578.63 479.91 579 480.33 579.37 480.75 C579.74 481.17 580.11 481.69 580.47 482.02 C580.84 482.35 581.21 482.49 581.58 482.73 C581.95 482.97 582.32 483.21 582.68 483.44 C583.05 483.68 583.42 484.03 583.79 484.16 C584.16 484.28 584.53 484.2 584.89 484.19 C585.26 484.17 585.63 484.09 586 484.04 C586.37 484 586.74 483.95 587.1 483.9 C587.47 483.85 587.84 483.81 588.21 483.76 C588.58 483.71 588.95 483.72 589.31 483.62 C589.68 483.52 590.05 483.31 590.42 483.16 C590.79 483.01 591.16 482.85 591.52 482.7 C591.89 482.55 592.26 482.4 592.63 482.25 C593 482.09 593.37 481.94 593.73 481.79 C594.1 481.64 594.47 481.49 594.84 481.33 C595.21 481.18 595.58 481.02 595.94 480.88 C596.31 480.74 596.68 480.62 597.05 480.5 C597.42 480.37 597.79 480.24 598.15 480.12 C598.52 479.99 598.89 479.86 599.26 479.74 C599.63 479.61 600 479.48 600.36 479.36 C600.73 479.23 601.1 479.1 601.47 478.98 C601.84 478.85 602.21 478.72 602.57 478.6 C602.94 478.47 603.31 478.34 603.68 478.21 C604.05 478.09 604.42 477.96 604.78 477.83 C605.15 477.71 605.52 477.58 605.89 477.45 C606.26 477.33 606.63 477.2 606.99 477.07 C607.36 476.95 607.73 476.82 608.1 476.69 C608.47 476.57 608.84 476.4 609.2 476.31 C609.57 476.22 609.94 476.21 610.31 476.15 C610.68 476.1 611.05 476.05 611.41 476 C611.78 475.94 612.15 475.89 612.52 475.84 C612.89 475.78 613.26 475.73 613.62 475.68 C613.99 475.63 614.36 475.57 614.73 475.52 C615.1 475.47 615.47 475.41 615.83 475.36 C616.2 475.31 616.57 475.26 616.94 475.2 C617.31 475.15 617.68 475.1 618.04 475.05 C618.41 474.99 618.78 474.94 619.15 474.89 C619.52 474.83 619.89 474.78 620.25 474.73 C620.62 474.68 620.99 474.62 621.36 474.57 C621.73 474.52 622.1 474.46 622.46 474.41 C622.83 474.36 623.2 474.31 623.57 474.25 C623.94 474.2 624.31 474.15 624.67 474.09 C625.04 474.04 625.59 473.96 625.78 473.94" stroke="#000080" stroke-width="1.5" fill="none" stroke-linejoin="round" opacity="1"/>
<rect x="449.2" y="358.5" width="177.4" height="137.8" fill="none" stroke="#222" stroke-width="1"/>
<path d="M449.2 496.3v2.6M449.2 358.5v2.2M493.4 496.3v2.6M493.4 358.5v2.2M537.6 496.3v2.6M537.6 358.5v2.2M581.8 496.3v2.6M581.8 358.5v2.2M626 496.3v2.6M626 358.5v2.2M471.3 496.3v1.5M515.5 496.3v1.5M559.7 496.3v1.5M603.9 496.3v1.5M449.2 484.3h-2.6M626.6 484.3h-2.2M449.2 461.48h-2.6M626.6 461.48h-2.2M449.2 438.66h-2.6M626.6 438.66h-2.2M449.2 415.84h-2.6M626.6 415.84h-2.2M449.2 393.02h-2.6M626.6 393.02h-2.2M449.2 370.2h-2.6M626.6 370.2h-2.2M449.2 495.71h-1.5M449.2 472.89h-1.5M449.2 450.07h-1.5M449.2 427.25h-1.5M449.2 404.43h-1.5M449.2 381.61h-1.5M449.2 358.79h-1.5" stroke="#222" stroke-width="0.9" fill="none"/>
<text x="443.51" y="506.42" font-family="Liberation Sans" font-size="7" fill="#222" letter-spacing="0.6">-20</text>
<text x="487.71" y="506.42" font-family="Liberation Sans" font-size="7" fill="#222" letter-spacing="0.6">-10</text>
<text x="535.64" y="506.42" font-family="Liberation Sans" font-size="7" fill="#222" letter-spacing="0.6">0</text>
<text x="577.47" y="506.42" font-family="Liberation Sans" font-size="7" fill="#222" letter-spacing="0.6">10</text>
<text x="621.76" y="506.42" font-family="Liberation Sans" font-size="7" fill="#222" letter-spacing="0.6">20</text>
<text transform="translate(436.27 485.59) scale(0.82 1)" font-family="Liberation Sans" font-size="7.5" fill="#222">0.0</text>
<text transform="translate(436.36 462.77) scale(0.82 1)" font-family="Liberation Sans" font-size="7.5" fill="#222">0.2</text>
<text transform="translate(436.24 439.95) scale(0.82 1)" font-family="Liberation Sans" font-size="7.5" fill="#222">0.4</text>
<text transform="translate(436.3 417.13) scale(0.82 1)" font-family="Liberation Sans" font-size="7.5" fill="#222">0.6</text>
<text transform="translate(436.3 394.31) scale(0.82 1)" font-family="Liberation Sans" font-size="7.5" fill="#222">0.8</text>
<text transform="translate(436.27 371.49) scale(0.82 1)" font-family="Liberation Sans" font-size="7.5" fill="#222">1.0</text>
<text x="431.14" y="491.02" font-family="Liberation Serif" font-size="13.84" fill="#111" transform="rotate(-90 431.14 491.02)">Normalized Pressure</text>
<text x="509.46" y="527.12" font-family="Liberation Serif" font-size="14.04" fill="#111">Y (mm)</text>
<text x="417.74" y="365.49" font-family="Liberation Serif" font-size="16" fill="#111">(g)</text>
<text x="557.79" y="372.94" font-family="Liberation Serif" font-size="11.2" fill="#111">d=2Λ=5mm</text>
<path d="M462.3 383.6H476.7" stroke="#000000" stroke-width="1.5"/>
<text transform="translate(478.31 385.98) scale(0.84 1)" font-family="Liberation Sans" font-size="7.2" fill="#222">14550Hz</text>
<path d="M462.3 392.24H476.7" stroke="#ff0000" stroke-width="1.5"/>
<text transform="translate(478.31 394.62) scale(0.84 1)" font-family="Liberation Sans" font-size="7.2" fill="#222">14600Hz</text>
<path d="M462.3 400.88H476.7" stroke="#0000ff" stroke-width="1.5"/>
<text transform="translate(478.31 403.26) scale(0.84 1)" font-family="Liberation Sans" font-size="7.2" fill="#222">14650Hz</text>
<path d="M462.3 409.52H476.7" stroke="#ff00ff" stroke-width="1.5"/>
<text transform="translate(478.31 411.9) scale(0.84 1)" font-family="Liberation Sans" font-size="7.2" fill="#222">14700Hz</text>
<path d="M462.3 418.16H476.7" stroke="#008000" stroke-width="1.5"/>
<text transform="translate(478.31 420.54) scale(0.84 1)" font-family="Liberation Sans" font-size="7.2" fill="#222">14750Hz</text>
<path d="M462.3 426.8H476.7" stroke="#000080" stroke-width="1.5"/>
<text transform="translate(478.31 429.18) scale(0.84 1)" font-family="Liberation Sans" font-size="7.2" fill="#222">14800Hz</text>
<path d="M80.4 641.7 C82.27 639.11 88.56 631.15 91.61 626.12 C94.65 621.09 96.72 615.86 98.66 611.51 C100.6 607.16 101.67 604.42 103.23 600.02 C104.78 595.62 106.55 589.47 108 585.11 C109.45 580.76 110.59 577.52 111.94 573.91 C113.29 570.31 114.71 566.45 116.09 563.49 C117.47 560.54 119.04 557.6 120.24 556.19 C121.44 554.77 122.27 555.02 123.31 555.02 C124.35 555.02 125.25 555.18 126.47 556.19 C127.68 557.19 129.27 558.9 130.62 561.06 C131.96 563.22 133.2 566.2 134.52 569.14 C135.83 572.08 137.17 575.63 138.5 578.69 C139.83 581.74 141.15 585.03 142.48 587.45 C143.82 589.87 145.29 591.71 146.51 593.2 C147.73 594.69 148.22 595.1 149.79 596.41 C151.36 597.73 153.33 599.71 155.93 601.09 C158.53 602.47 162.23 604.56 165.39 604.69 C168.55 604.82 171.74 603.65 174.9 601.87 C178.05 600.08 181.16 597.4 184.32 593.98 C187.47 590.55 190.67 584.74 193.82 581.32 C196.97 577.89 200.63 574.21 203.24 573.43 C205.85 572.65 207.36 574.01 209.47 576.64 C211.57 579.27 213.75 584.21 215.9 589.21 C218.04 594.21 219.94 600.57 222.33 606.64 C224.72 612.71 227.59 620.37 230.22 625.63 C232.84 630.89 235.61 634.92 238.1 638.2 C240.59 641.48 243.98 644.12 245.16 645.31" stroke="#1a1a1a" stroke-width="1.1" fill="none" stroke-linejoin="round" opacity="1"/>
<path d="M80.4 645.6 C82.27 643 88.28 635.37 91.61 630.02 C94.93 624.66 97.48 618.46 100.32 613.46 C103.16 608.46 105.99 603.93 108.62 600.02 C111.25 596.1 113.78 592.87 116.09 589.98 C118.4 587.1 120.48 584.95 122.48 582.68 C124.49 580.41 126.26 578.35 128.12 576.35 C129.99 574.35 131.96 572.5 133.69 570.7 C135.42 568.9 136.76 567 138.5 565.54 C140.24 564.08 142.22 562.96 144.1 561.93 C145.98 560.91 147.55 560.5 149.79 559.4 C152.02 558.3 154.64 556.71 157.51 555.31 C160.38 553.91 164.11 551.97 167.01 551.02 C169.91 550.08 172.01 549.48 174.9 549.66 C177.78 549.84 181.16 551.28 184.32 552.1 C187.47 552.91 190.67 553.35 193.82 554.53 C196.97 555.72 199.8 556.85 203.24 559.21 C206.68 561.56 211.02 565.75 214.44 568.65 C217.87 571.56 220.64 573.22 223.78 576.64 C226.93 580.07 229.77 584.35 233.33 589.21 C236.89 594.06 242.98 602.86 245.16 605.76 C247.33 608.67 246.19 606.49 246.4 606.64" stroke="#ff2828" stroke-width="1.1" fill="none" stroke-linejoin="round" opacity="1"/>
<rect x="80.5" y="538.7" width="165.7" height="116.6" fill="none" stroke="#222" stroke-width="1"/>
<path d="M80.4 655.3v2.6M80.4 538.7v2.2M121.9 655.3v2.6M121.9 538.7v2.2M163.4 655.3v2.6M163.4 538.7v2.2M204.9 655.3v2.6M204.9 538.7v2.2M246.4 655.3v2.6M246.4 538.7v2.2M101.15 655.3v1.5M142.65 655.3v1.5M184.15 655.3v1.5M225.65 655.3v1.5M80.5 645.6h-2.6M246.2 645.6h-2.2M80.5 626.12h-2.6M246.2 626.12h-2.2M80.5 606.64h-2.6M246.2 606.64h-2.2M80.5 587.16h-2.6M246.2 587.16h-2.2M80.5 567.68h-2.6M246.2 567.68h-2.2M80.5 548.2h-2.6M246.2 548.2h-2.2M80.5 655.34h-1.5M80.5 635.86h-1.5M80.5 616.38h-1.5M80.5 596.9h-1.5M80.5 577.42h-1.5M80.5 557.94h-1.5M80.5 538.46h-1.5" stroke="#222" stroke-width="0.9" fill="none"/>
<text x="75.96" y="664.4" font-family="Liberation Sans" font-size="6.1" fill="#222">-20</text>
<text x="117.46" y="664.4" font-family="Liberation Sans" font-size="6.1" fill="#222">-10</text>
<text x="161.69" y="664.4" font-family="Liberation Sans" font-size="6.1" fill="#222">0</text>
<text x="201.39" y="664.4" font-family="Liberation Sans" font-size="6.1" fill="#222">10</text>
<text x="242.97" y="664.4" font-family="Liberation Sans" font-size="6.1" fill="#222">20</text>
<text transform="translate(68.02 647.58) scale(0.92 1)" font-family="Liberation Sans" font-size="7.2" fill="#222">0.0</text>
<text transform="translate(68.12 628.1) scale(0.92 1)" font-family="Liberation Sans" font-size="7.2" fill="#222">0.2</text>
<text transform="translate(67.99 608.62) scale(0.92 1)" font-family="Liberation Sans" font-size="7.2" fill="#222">0.4</text>
<text transform="translate(68.06 589.14) scale(0.92 1)" font-family="Liberation Sans" font-size="7.2" fill="#222">0.6</text>
<text transform="translate(68.06 569.66) scale(0.92 1)" font-family="Liberation Sans" font-size="7.2" fill="#222">0.8</text>
<text transform="translate(68.02 550.18) scale(0.92 1)" font-family="Liberation Sans" font-size="7.2" fill="#222">1.0</text>
<text x="63.66" y="657.32" font-family="Liberation Serif" font-size="13.9" fill="#111" transform="rotate(-90 63.66 657.32)">Normalized Pressure</text>
<text x="141.06" y="680.13" font-family="Liberation Serif" font-size="13.88" fill="#111">Y (mm)</text>
<text x="19.19" y="554.14" font-family="Liberation Serif" font-size="16" fill="#111">(h)</text>
<text x="184.89" y="550.04" font-family="Liberation Serif" font-size="11.2" fill="#111">d=8Λ=20mm</text>
<path d="M118.3 620H136.1" stroke="#1a1a1a" stroke-width="1.2"/>
<text transform="translate(138.81 622.95) scale(0.93 1)" font-family="Liberation Sans" font-size="8.4" fill="#111">1800 Hz</text>
<path d="M118.3 629.5H136.1" stroke="#ff2828" stroke-width="1.2"/>
<text transform="translate(138.81 631.81) scale(0.93 1)" font-family="Liberation Sans" font-size="8.4" fill="#111">1800Hz_no lens</text>
<path d="M391.3 618.79 C391.65 618.54 390.95 621.28 393.43 617.34 C395.91 613.39 402.43 599.31 406.19 595.12 C409.95 590.93 412.29 593.43 415.98 592.22 C419.67 591.01 423.99 590.85 428.32 587.87 C432.64 584.9 436.83 577.33 441.93 574.35 C447.04 571.37 453.35 569.84 458.95 570 C464.56 570.16 470.44 575.8 475.55 575.32 C480.65 574.83 484.48 570.33 489.59 567.11 C494.7 563.88 501.15 558.33 506.19 556 C511.22 553.66 515.69 551.97 519.8 553.1 C523.91 554.23 527.18 556.96 530.86 562.76 C534.55 568.55 538.24 578.05 541.93 587.87 C545.61 597.7 549.73 612.51 552.99 621.68 C556.25 630.86 560.08 639.39 561.5 642.94" stroke="#3040f0" stroke-width="1.2" fill="none" stroke-linejoin="round" stroke-dasharray="4 2.5" opacity="1"/>
<path d="M391.3 588.84 C391.65 588.52 390.95 589.32 393.43 586.91 C395.91 584.49 401.44 578.86 406.19 574.35 C410.94 569.84 417.33 563.48 421.94 559.86 C426.55 556.24 430.02 553.26 433.85 552.62 C437.68 551.97 441.23 554.31 444.91 556 C448.6 557.69 452.36 561.31 455.98 562.76 C459.59 564.21 462.89 562.6 466.61 564.69 C470.34 566.78 474.06 569.36 478.31 575.32 C482.57 581.27 487.5 592.06 492.14 600.43 C496.79 608.8 501.58 619.04 506.19 625.55 C510.79 632.05 515.76 636.72 519.8 639.46 C523.84 642.2 526.82 644.29 530.44 641.97 C534.06 639.65 537.81 631.83 541.5 625.55 C545.19 619.27 549.23 610.09 552.56 604.3 C555.9 598.5 560.01 593.03 561.5 590.77" stroke="#40f0ff" stroke-width="1.2" fill="none" stroke-linejoin="round" stroke-dasharray="4 2.5" opacity="1"/>
<path d="M391.3 638.11 L393.43 639.46 L401.94 646.41 L413 629.41 L424.06 604.3 L433.85 584.98 L444.49 559.86 L455.55 550.2 L465.76 562.76 L476.83 573.38 L487.89 564.69 L497.68 550.2 L508.74 558.89 L519.8 579.66 L530.86 603.33 L540.65 624.58 L551.71 635.21 L561.5 638.11" stroke="#333" stroke-width="0.9" fill="none" stroke-linejoin="round" opacity="1"/>
<path d="M391.3 629.41 L401.94 627.48 L413 624.58 L424.06 604.3 L433.85 584.01 L444.49 561.79 L455.55 551.65 L465.76 561.79 L476.83 570.49 L487.89 564.69 L497.68 550.2 L508.74 554.55 L519.8 579.66 L530.86 610.09 L540.65 646.41 L551.71 639.46 L561.5 633.86" stroke="#f03030" stroke-width="0.9" fill="none" stroke-linejoin="round" opacity="1"/>
<rect x="391.3" y="540.8" width="170.9" height="115.5" fill="none" stroke="#222" stroke-width="1"/>
<path d="M391.3 656.3v2.6M391.3 540.8v2.2M433.85 656.3v2.6M433.85 540.8v2.2M476.4 656.3v2.6M476.4 540.8v2.2M518.95 656.3v2.6M518.95 540.8v2.2M561.5 656.3v2.6M561.5 540.8v2.2M412.57 656.3v1.5M455.12 656.3v1.5M497.68 656.3v1.5M540.23 656.3v1.5M391.3 646.8h-2.6M562.2 646.8h-2.2M391.3 627.48h-2.6M562.2 627.48h-2.2M391.3 608.16h-2.6M562.2 608.16h-2.2M391.3 588.84h-2.6M562.2 588.84h-2.2M391.3 569.52h-2.6M562.2 569.52h-2.2M391.3 550.2h-2.6M562.2 550.2h-2.2M391.3 656.46h-1.5M391.3 637.14h-1.5M391.3 617.82h-1.5M391.3 598.5h-1.5M391.3 579.18h-1.5M391.3 559.86h-1.5M391.3 540.54h-1.5" stroke="#222" stroke-width="0.9" fill="none"/>
<text x="386.79" y="664.79" font-family="Liberation Sans" font-size="6.2" fill="#222">-20</text>
<text x="429.34" y="664.79" font-family="Liberation Sans" font-size="6.2" fill="#222">-10</text>
<text x="474.66" y="664.79" font-family="Liberation Sans" font-size="6.2" fill="#222">0</text>
<text x="515.38" y="664.79" font-family="Liberation Sans" font-size="6.2" fill="#222">10</text>
<text x="558.01" y="664.79" font-family="Liberation Sans" font-size="6.2" fill="#222">20</text>
<text transform="translate(378.07 648.5) scale(0.98 1)" font-family="Liberation Sans" font-size="6.8" fill="#222">0.0</text>
<text transform="translate(378.17 629.18) scale(0.98 1)" font-family="Liberation Sans" font-size="6.8" fill="#222">0.2</text>
<text transform="translate(378.04 609.86) scale(0.98 1)" font-family="Liberation Sans" font-size="6.8" fill="#222">0.4</text>
<text transform="translate(378.1 590.54) scale(0.98 1)" font-family="Liberation Sans" font-size="6.8" fill="#222">0.6</text>
<text transform="translate(378.1 571.22) scale(0.98 1)" font-family="Liberation Sans" font-size="6.8" fill="#222">0.8</text>
<text transform="translate(378.07 551.9) scale(0.98 1)" font-family="Liberation Sans" font-size="6.8" fill="#222">1.0</text>
<text x="375.08" y="657.31" font-family="Liberation Serif" font-size="13.97" fill="#111" transform="rotate(-90 375.08 657.31)">Normalized Pressure</text>
<text x="453.57" y="679.32" font-family="Liberation Serif" font-size="13.43" fill="#111">Y (mm)</text>
<text x="341.19" y="554.04" font-family="Liberation Serif" font-size="16" fill="#111">(i)</text>
<text x="500.86" y="550.2" font-family="Liberation Serif" font-size="11.1" fill="#111">d=4Λ=10mm</text>
<path d="M432.1 620.6H444.6" stroke="#333" stroke-width="1"/>
<text transform="translate(445.85 622.65) scale(0.88 1)" font-family="Liberation Sans" font-size="6.8" fill="#222">14000Hz</text>
<path d="M432.1 627.5H444.6" stroke="#f03030" stroke-width="1"/>
<text transform="translate(445.85 629.55) scale(0.88 1)" font-family="Liberation Sans" font-size="6.8" fill="#222">14500Hz</text>
<path d="M432.1 634.5H444.6" stroke="#3040f0" stroke-width="1.2" stroke-dasharray="4 2.5"/>
<text transform="translate(445.85 636.53) scale(0.88 1)" font-family="Liberation Sans" font-size="6.8" fill="#222">14000Hz_no lens</text>
<path d="M432.1 642H444.6" stroke="#40f0ff" stroke-width="1.2" stroke-dasharray="4 2.5"/>
<text transform="translate(445.85 644.03) scale(0.88 1)" font-family="Liberation Sans" font-size="6.8" fill="#222">14500Hz_no lens</text>
<defs><clipPath id="ca"><rect x="80.6" y="5.2" width="155.4" height="143.2"/></clipPath><clipPath id="cb"><rect x="402.1" y="5.3" width="144.4" height="140"/></clipPath></defs>
<g clip-path="url(#ca)">
<rect x="80.6" y="5.2" width="155.4" height="143.2" fill="#0000ff"/>
<path d="M79 42.8 L103.3 42.4 L110 41.6 L113.5 39.2 L117.2 35.8 L119.8 32.5 L123.1 26 L125.8 19.4 L129.7 12.8 L131.8 6 L132.3 4 L135 4 L132.2 12.8 L131 19.4 L130.4 26 L130.5 32.5 L132.3 35.8 L136.3 39.1 L145 41.3 L158 43.4 L190 45.6 L237 47.8 L237 57.7 L190 60.6 L150 64.8 L140 69.8 L127.4 73.6 L117.9 79.3 L111.3 90 L106.2 99.4 L100 112 L95 125.7 L90.5 149 L79 149Z" fill="#0078ff" stroke="#000000" stroke-width="0.7"/>
<path d="M79 60.3 L85.9 60.7 L97.7 62 L103 66.6 L105 74.5 L104.3 82.3 L101 91.5 L96.4 103.4 L91.1 116.5 L86.5 127.5 L82 134.5 L79 137.8Z" fill="#0000ff" stroke="#000000" stroke-width="0.7"/>
<path d="M79 46.1 L99 46 L108.4 44.2 L114 41.5 L117.9 37.6 L119.8 33.5 L121.5 32.6 L123.6 37.6 L124.5 42.3 L129.3 45.6 L140 47.5 L170 48.8 L237 49.5 L237 51 L140 51.8 L122 53.5 L114 56.5 L110.5 60 L109.5 68 L108.5 72 L107.5 64 L106 59.3 L101 57 L79 56.5Z" fill="#00ffff" stroke="#000000" stroke-width="0.6"/>
<path d="M79 48 L108.4 48 L112 46.5 L115.5 44.5 L117.9 43.3 L120 44.5 L120.8 47 L123 48.5 L140 49.3 L237 50.2 L237 51.3 L140 51.8 L122.7 52.5 L117.9 53.6 L114 55 L112 57 L111 61.3 L109.5 60 L108.4 58 L106.5 55.8 L79 54.2Z" fill="#00ff80" stroke="#000000" stroke-width="0.6"/>
<path d="M105 94.5 L106.2 89.2 L110 81.8 L114.7 74.8 L122.6 67.5 L135 62 L140 60.6 L160 57.3 L237 54.9 L237 56 L160 58.3 L140 62.6 L135 63.8 L122.6 69.6 L114.7 77 L110.3 84.5 L107.8 91.5 L106.5 94.5Z" fill="#00ffff" stroke="#000000" stroke-width="0.6"/>
<path d="M107 64.5 L108.8 62.5 L111.4 69.7 L116.7 65.1 L124.6 61.2 L135 58.5 L160 55.4 L237 53.3 L237 54.9 L160 57.3 L140 60.6 L135 62 L122.6 67.5 L114.7 74.8 L110 81.8 L106.2 89.2 L104 96 L102 95.5 L104 88 L105.8 79.6 L106.3 71Z" fill="#000000"/>
<path d="M113 67.5L118 64.2L124.6 62.3L135 59.9L150 57.6M109.5 78L112 74" stroke="#20d020" stroke-width="0.9" fill="none"/>
<circle cx="108.5" cy="74.6" r="1" fill="#e00000"/>
<path d="M111.4 69.7 L112.5 64 L114 58.5 L118 55.9 L124.6 54.6 L135 53.6 L140 53.2 L160 52.4 L200 52 L237 51.4 L237 53.3 L200 54.2 L160 55.4 L140 57.6 L135 58.5 L124.6 61.2 L116.7 65.1Z" fill="#ff0000"/>
<path d="M180 51.5L237 51.3V53.3L180 54.4Z" fill="#c00000"/>
<path d="M113.5 56.5l2.5 -1.5M117 54.5l3.5 -1M111.5 60.5l1.5 -2.5" stroke="#30ff30" stroke-width="1.1"/>
<path d="M138 50.8H236" stroke="#000" stroke-width="2.2"/>
<path d="M81 50.8H236" stroke="#e8883a" stroke-width="1.7" stroke-dasharray="3.7 1.6"/>
<path d="M80.6 142.2 L82.5 140.8 L85 141.6 L86.2 144.2 L85.2 147 L83.5 148.4 L80.6 148.4Z" fill="#00f0f0" stroke="#000000" stroke-width="0.6"/>
<path d="M80.3 142.7L85.4 142.4L84.1 146.2L81.7 146ZM83.8 134.8L88.9 134.5L87.6 138.3L85.2 138.1ZM86.4 125.6L91.5 125.3L90.2 129.1L87.8 128.9ZM89.9 117.3L95 117L93.7 120.8L91.3 120.6ZM93 109L98.1 108.7L96.8 112.5L94.4 112.3ZM96 99.8L101.1 99.5L99.8 103.3L97.4 103.1ZM99.5 91.9L104.6 91.6L103.3 95.4L100.9 95.2ZM101.8 82.4L106.9 82.1L105.6 85.9L103.2 85.7ZM102.8 73.9L107.9 73.6L106.6 77.4L104.2 77.2ZM115.1 41.4L120.2 41.1L118.9 44.9L116.5 44.7ZM118.7 33.6L123.8 33.3L122.5 37.1L120.1 36.9ZM121 26.4L126.1 26.1L124.8 29.9L122.4 29.7ZM123.9 17.2L129 16.9L127.7 20.7L125.3 20.5ZM126.9 7.6L132 7.3L130.7 11.1L128.3 10.9Z" fill="#000"/>
<path d="M83.4 144.6m-1 0a1 1 0 1 0 2 0a1 1 0 1 0 -2 0M86.9 136.7m-1 0a1 1 0 1 0 2 0a1 1 0 1 0 -2 0M89.5 127.5m-1 0a1 1 0 1 0 2 0a1 1 0 1 0 -2 0M93 119.2m-1 0a1 1 0 1 0 2 0a1 1 0 1 0 -2 0M96.1 110.9m-1 0a1 1 0 1 0 2 0a1 1 0 1 0 -2 0M99.1 101.7m-1 0a1 1 0 1 0 2 0a1 1 0 1 0 -2 0M102.6 93.8m-1 0a1 1 0 1 0 2 0a1 1 0 1 0 -2 0M104.9 84.3m-1 0a1 1 0 1 0 2 0a1 1 0 1 0 -2 0M105.9 75.8m-1 0a1 1 0 1 0 2 0a1 1 0 1 0 -2 0M118.2 43.3m-1 0a1 1 0 1 0 2 0a1 1 0 1 0 -2 0M121.8 35.5m-1 0a1 1 0 1 0 2 0a1 1 0 1 0 -2 0M124.1 28.3m-1 0a1 1 0 1 0 2 0a1 1 0 1 0 -2 0M127 19.1m-1 0a1 1 0 1 0 2 0a1 1 0 1 0 -2 0M130 9.5m-1 0a1 1 0 1 0 2 0a1 1 0 1 0 -2 0" fill="#10b0a0"/>
</g>
<rect x="80.6" y="5.2" width="155.4" height="143.2" fill="none" stroke="#222" stroke-width="1"/>
<path d="M80.7 148.4v2.6M121.9 148.4v2.6M163.1 148.4v2.6M204.3 148.4v2.6M101.3 148.4v1.6M142.5 148.4v1.6M183.7 148.4v1.6M224.9 148.4v1.6M80.6 126.6h-2.6M80.6 98.77h-2.6M80.6 70.95h-2.6M80.6 43.12h-2.6M80.6 15.3h-2.6M80.6 140.51h-1.6M80.6 112.69h-1.6M80.6 84.86h-1.6M80.6 57.04h-1.6M80.6 29.21h-1.6" stroke="#222" stroke-width="0.9" fill="none"/>
<text x="74.27" y="157.28" font-family="Liberation Sans" font-size="6.6" fill="#222">0.00</text>
<text x="115.45" y="157.28" font-family="Liberation Sans" font-size="6.6" fill="#222">0.04</text>
<text x="156.68" y="157.28" font-family="Liberation Sans" font-size="6.6" fill="#222">0.08</text>
<text x="197.91" y="157.28" font-family="Liberation Sans" font-size="6.6" fill="#222">0.12</text>
<text x="64.6" y="127.82" font-family="Liberation Sans" font-size="7.3" fill="#222">500</text>
<text x="60.51" y="99.99" font-family="Liberation Sans" font-size="7.3" fill="#222">1000</text>
<text x="60.51" y="72.17" font-family="Liberation Sans" font-size="7.3" fill="#222">1500</text>
<text x="60.51" y="44.34" font-family="Liberation Sans" font-size="7.3" fill="#222">2000</text>
<text x="60.51" y="16.52" font-family="Liberation Sans" font-size="7.3" fill="#222">2500</text>
<text x="58.81" y="55.71" font-family="Liberation Serif" font-size="9.2" fill="#111">1852</text>
<text x="50.44" y="118.22" font-family="Liberation Serif" font-size="13.9" fill="#111" transform="rotate(-90 50.44 118.22)">Frequency (Hz)</text>
<text x="29.62" y="20.34" font-family="Liberation Serif" font-size="16" fill="#111">(a)</text>
<text x="124.4" y="169.6" font-family="Liberation Serif" font-size="14.8" text-anchor="start" fill="#222">k</text>
<path d="M132.6 166.2v7.4M134.9 166.2v7.4" stroke="#444" stroke-width="1.3"/>
<text x="139.7" y="169.6" font-family="Liberation Serif" font-size="14.8" text-anchor="start" fill="#222">(mm)</text>
<text x="174.4" y="163.4" font-family="Liberation Serif" font-size="11.840000000000002" text-anchor="start" fill="#222">−1</text>
<rect x="241.8" y="18.8" width="8.3" height="12.02" fill="#ff0000"/>
<rect x="241.8" y="30.52" width="8.3" height="12.02" fill="#ff8000"/>
<rect x="241.8" y="42.24" width="8.3" height="12.02" fill="#ffff00"/>
<rect x="241.8" y="53.96" width="8.3" height="12.02" fill="#00ff00"/>
<rect x="241.8" y="65.68" width="8.3" height="12.02" fill="#00ff80"/>
<rect x="241.8" y="77.4" width="8.3" height="12.02" fill="#00ffff"/>
<rect x="241.8" y="89.12" width="8.3" height="12.02" fill="#0078ff"/>
<rect x="241.8" y="100.84" width="8.3" height="12.02" fill="#0000ff"/>
<rect x="241.8" y="112.56" width="8.3" height="12.02" fill="#000000"/>
<text x="251.53" y="22.36" font-family="Liberation Serif" font-size="9.27" fill="#111">≤ 2.00</text>
<text x="253.01" y="44.38" font-family="Liberation Sans" font-size="6.61" fill="#222">1.500</text>
<text x="253.01" y="67.88" font-family="Liberation Sans" font-size="6.61" fill="#222">1.000</text>
<text x="253.23" y="91.41" font-family="Liberation Sans" font-size="6.7" fill="#222">0.5000</text>
<text x="253.23" y="114.85" font-family="Liberation Sans" font-size="6.52" fill="#222">0.000</text>
<text x="252.78" y="138.63" font-family="Liberation Serif" font-size="14.5" fill="#111">|T|</text>
<g clip-path="url(#cb)">
<rect x="402.1" y="5.3" width="144.4" height="140" fill="#0000ff"/>
<path d="M400 17.5 L400 17.5 C406.67 17.57 427.67 17.62 440 17.9 C452.33 18.18 465.5 18.62 474 19.2 C482.5 19.78 486.2 20.22 491 21.4 C495.8 22.58 500.83 25.48 502.8 26.3 L502.8 26.3 C500.83 27.68 495.8 32.48 491 34.6 C486.2 36.72 482.5 37.87 474 39 C465.5 40.13 452.33 40.82 440 41.4 C427.67 41.98 406.67 42.32 400 42.5Z" fill="#0078ff" stroke="#000000" stroke-width="0.7"/>
<path d="M400 20.9 L400 20.9 C406.67 20.97 427.67 21.08 440 21.3 C452.33 21.52 465.5 21.78 474 22.2 C482.5 22.62 486.2 23.12 491 23.8 C495.8 24.48 500.83 25.88 502.8 26.3 L502.8 26.3 C500.83 27.3 495.8 30.92 491 32.3 C486.2 33.68 482.5 33.92 474 34.6 C465.5 35.28 452.33 35.93 440 36.4 C427.67 36.87 406.67 37.23 400 37.4Z" fill="#00ffff" stroke="#000000" stroke-width="0.7"/>
<path d="M400 23.2 L400 23.2 C406.67 23.27 427.67 23.4 440 23.6 C452.33 23.8 465.5 24.1 474 24.4 C482.5 24.7 486.2 25.08 491 25.4 C495.8 25.72 500.83 26.15 502.8 26.3 L502.8 26.3 C500.83 26.77 495.8 28.3 491 29.1 C486.2 29.9 482.5 30.63 474 31.1 C465.5 31.57 452.33 31.7 440 31.9 C427.67 32.1 406.67 32.23 400 32.3Z" fill="#00ff80" stroke="#000000" stroke-width="0.7"/>
<path d="M400 56.8 L400 56.8 C406.67 56.97 428.33 57.35 440 57.8 C451.67 58.25 462.5 58.67 470 59.5 C477.5 60.33 480.97 60.83 485 62.8 C489.03 64.77 492.67 69.88 494.2 71.3 L494.2 71.3 C493.83 72.33 492.37 76.47 492 77.5 L492 77.5 C490.83 78.83 488.67 83.5 485 85.5 C481.33 87.5 477.5 88.22 470 89.5 C462.5 90.78 451.67 92.28 440 93.2 C428.33 94.12 406.67 94.7 400 95Z" fill="#0078ff" stroke="#000000" stroke-width="0.7"/>
<path d="M400 61.9 L400 61.9 C406.67 62.05 428.33 62.35 440 62.8 C451.67 63.25 462.33 63.8 470 64.6 C477.67 65.4 481.97 66.48 486 67.6 C490.03 68.72 492.83 70.68 494.2 71.3 L494.2 71.3 C493.83 72.33 492.37 76.47 492 77.5 L492 77.5 C490.83 78.22 488.67 80.52 485 81.8 C481.33 83.08 477.5 84.13 470 85.2 C462.5 86.27 451.67 87.42 440 88.2 C428.33 88.98 406.67 89.62 400 89.9Z" fill="#00ffff" stroke="#000000" stroke-width="0.7"/>
<path d="M400 67 L400 67 C406.67 67.1 428.33 67.25 440 67.6 C451.67 67.95 462.33 68.55 470 69.1 C477.67 69.65 481.97 70.53 486 70.9 C490.03 71.27 492.83 71.23 494.2 71.3 L494.2 71.3 C493.83 72.33 492.37 76.47 492 77.5 L492 77.5 C490.83 77.82 488.67 78.73 485 79.4 C481.33 80.07 477.5 80.87 470 81.5 C462.5 82.13 451.67 82.75 440 83.2 C428.33 83.65 406.67 84.03 400 84.2Z" fill="#00ff80" stroke="#000000" stroke-width="0.7"/>
<path d="M400 108.7 L400 108.7 C406.67 108.92 429 109.32 440 110 C451 110.68 459.67 111.55 466 112.8 C472.33 114.05 474.93 115.78 478 117.5 C481.07 119.22 483.33 122.17 484.4 123.1 L484.4 123.1 C483.33 123.83 481.07 126.32 478 127.5 C474.93 128.68 472.33 129.38 466 130.2 C459.67 131.02 451 131.82 440 132.4 C429 132.98 406.67 133.48 400 133.7Z" fill="#0078ff" stroke="#000000" stroke-width="0.7"/>
<path d="M400 114.4 L400 114.4 C406.67 114.6 429 115.03 440 115.6 C451 116.17 459.67 116.98 466 117.8 C472.33 118.62 474.93 119.62 478 120.5 C481.07 121.38 483.33 122.67 484.4 123.1 L484.4 123.1 C483.33 123.55 481.07 125.02 478 125.8 C474.93 126.58 472.33 127.13 466 127.8 C459.67 128.47 451 129.28 440 129.8 C429 130.32 406.67 130.72 400 130.9Z" fill="#00d8d8" stroke="#000000" stroke-width="0.7"/>
<path d="M400 118.4 L400 118.4 C406.67 118.57 429 118.97 440 119.4 C451 119.83 459.67 120.52 466 121 C472.33 121.48 474.93 121.95 478 122.3 C481.07 122.65 483.33 122.97 484.4 123.1 L484.4 123.1 C483.33 123.35 481.07 124.08 478 124.6 C474.93 125.12 472.33 125.73 466 126.2 C459.67 126.67 451 127.1 440 127.4 C429 127.7 406.67 127.9 400 128Z" fill="#00ff80" stroke="#000000" stroke-width="0.7"/>
<path d="M502.8 26.3 L502.8 26.3 C503.77 24.87 505.72 20.1 508.6 17.7 C511.48 15.3 516.25 13.25 520.1 11.9 C523.95 10.55 527.05 10.32 531.7 9.6 C536.35 8.88 545.28 7.93 548 7.6 L548 7.6 C548 10.5 548 22.1 548 25 L548 25 C543.35 25.13 527.63 25.58 520.1 25.8 C512.57 26.02 505.68 26.22 502.8 26.3Z" fill="#0078ff" stroke="#000000" stroke-width="0.7"/>
<path d="M502.8 26.3 L502.8 26.3 C504 25.28 507.12 21.83 510 20.2 C512.88 18.57 516.48 17.4 520.1 16.5 C523.72 15.6 527.05 15.25 531.7 14.8 C536.35 14.35 545.28 13.97 548 13.8 L548 13.8 C548 15.67 548 23.13 548 25 L548 25 C543.35 25.13 527.63 25.58 520.1 25.8 C512.57 26.02 505.68 26.22 502.8 26.3Z" fill="#00ffff" stroke="#000000" stroke-width="0.7"/>
<path d="M502.8 26.3 L502.8 26.3 C504.33 25.52 509.12 22.88 512 21.6 C514.88 20.32 516.82 19.33 520.1 18.6 C523.38 17.87 527.05 17.6 531.7 17.2 C536.35 16.8 545.28 16.37 548 16.2 L548 16.2 C548 17.67 548 23.53 548 25 L548 25 C543.35 25.13 527.63 25.58 520.1 25.8 C512.57 26.02 505.68 26.22 502.8 26.3Z" fill="#0078ff" stroke="#000000" stroke-width="0.7"/>
<path d="M502.8 26.3 L502.8 26.3 C503.38 25.98 503.42 25.27 506.3 24.4 C509.18 23.53 515.87 21.93 520.1 21.1 C524.33 20.27 527.05 19.87 531.7 19.4 C536.35 18.93 545.28 18.48 548 18.3 L548 18.3 C548 19.28 548 23.22 548 24.2 L548 24.2 C543.35 24.38 527.1 24.97 520.1 25.3 C513.1 25.63 508.35 26.05 506 26.2Z" fill="#ff0000" stroke="#000000" stroke-width="0.7"/>
<path d="M502.8 26.3 L502.8 26.3 C505.68 26.15 512.57 25.72 520.1 25.4 C527.63 25.08 543.35 24.57 548 24.4 L548 24.4 C548 32.85 557 66.65 548 75.1 C539 83.55 502.97 75.73 494 75.1 C485.03 74.47 494.17 71.93 494.2 71.3 L494.2 71.3 C494.68 69.87 496.05 66.07 497.1 62.7 C498.15 59.33 499.63 54.95 500.5 51.1 C501.37 47.25 501.92 43.73 502.3 39.6 C502.68 35.47 502.72 28.52 502.8 26.3Z" fill="#00ff80" stroke="#000000" stroke-width="0.7"/>
<path d="M502.8 26.3 L502.8 26.3 C504.73 26.78 509.58 28.52 514.4 29.2 C519.22 29.88 526.1 30.3 531.7 30.4 C537.3 30.5 545.28 29.9 548 29.8 L548 29.8 C548 31.05 548 36.05 548 37.3 L548 37.3 C545.28 38.27 536.73 40.8 531.7 43.1 C526.67 45.4 522.23 48.22 517.8 51.1 C513.37 53.98 508.55 57.9 505.1 60.4 C501.65 62.9 498.92 64.28 497.1 66.1 C495.28 67.92 494.68 70.43 494.2 71.3 L494.2 71.3 C494.68 69.87 496.05 66.07 497.1 62.7 C498.15 59.33 499.63 54.95 500.5 51.1 C501.37 47.25 501.92 43.73 502.3 39.6 C502.68 35.47 502.72 28.52 502.8 26.3Z" fill="#00ffff" stroke="#000000" stroke-width="0.7"/>
<path d="M502.8 26.3 L502.8 26.3 C503.75 26.92 506.72 28.63 508.5 30 C510.28 31.37 511.98 32.9 513.5 34.5 C515.02 36.1 517.35 37.77 517.6 39.6 C517.85 41.43 516.88 42.82 515 45.5 C513.12 48.18 509.28 52.27 506.3 55.7 C503.32 59.13 499.12 63.5 497.1 66.1 C495.08 68.7 494.68 70.43 494.2 71.3 L494.2 71.3 C494.68 69.87 496.05 66.07 497.1 62.7 C498.15 59.33 499.63 54.95 500.5 51.1 C501.37 47.25 501.92 43.73 502.3 39.6 C502.68 35.47 502.72 28.52 502.8 26.3Z" fill="#0078ff" stroke="#000000" stroke-width="0.7"/>
<path d="M548 44.2 L548 44.2 C545.28 45.17 537.3 47.7 531.7 50 C526.1 52.3 520.65 54.45 514.4 58 C508.15 61.55 497.57 69.08 494.2 71.3 L494.2 71.3 C497.57 69.67 508.15 64.28 514.4 61.5 C520.65 58.72 526.1 56.33 531.7 54.6 C537.3 52.87 545.28 51.68 548 51.1Z" fill="#00ff00" stroke="#000000" stroke-width="0.7"/>
<path d="M494.2 71.3L514.4 60.4L531.7 53.3L548 49.3" stroke="#e0e000" stroke-width="1.6" fill="none"/>
<path d="M494.2 71.3 L494.2 71.3 C497.57 69.67 508.15 64.28 514.4 61.5 C520.65 58.72 526.1 56.33 531.7 54.6 C537.3 52.87 545.28 51.68 548 51.1 L548 51.1 C548 53.92 548 65.18 548 68 L548 68 C545.28 68.25 537.3 69.05 531.7 69.5 C526.1 69.95 519.68 70.28 514.4 70.7 C509.12 71.12 503.37 71.9 500 72 C496.63 72.1 495.17 71.42 494.2 71.3Z" fill="#ff0000" stroke="#000000" stroke-width="0.7"/>
<path d="M494.2 71.3 L500 72 L514.4 70.7 L531.7 69.5 L548 68 L548 75.1 L494 75.1Z" fill="#00ff00" stroke="#000000" stroke-width="0.7"/>
<path d="M497 72.6L514.4 71.7L531.7 70.6L548 69.5" stroke="#e0c000" stroke-width="1.5" fill="none"/>
<path d="M492 75.1 L492 75.1 C501.33 75.1 538.67 65.57 548 75.1 C557.33 84.63 548 122.77 548 132.3 L548 132.3 C541.43 131.33 519.2 128.03 508.6 126.5 C498 124.97 488.43 123.67 484.4 123.1 L484.4 123.1 C484.97 120.98 486.65 114.45 487.8 110.4 C488.95 106.35 490.52 102.65 491.3 98.8 C492.08 94.95 492.38 90.85 492.5 87.3 C492.62 83.75 492.08 79.13 492 77.5Z" fill="#00ff80" stroke="#000000" stroke-width="0.7"/>
<path d="M492 77.5 L492 77.5 C492.83 77.55 494.17 77.38 497 77.8 C499.83 78.22 505.5 79.05 509 80 C512.5 80.95 515.77 82.08 518 83.5 C520.23 84.92 522.15 86.75 522.4 88.5 C522.65 90.25 521.8 91.32 519.5 94 C517.2 96.68 512.33 101.3 508.6 104.6 C504.87 107.9 501.13 110.72 497.1 113.8 C493.07 116.88 486.52 121.55 484.4 123.1 L484.4 123.1 C484.97 120.98 486.65 114.45 487.8 110.4 C488.95 106.35 490.52 102.65 491.3 98.8 C492.08 94.95 492.38 90.85 492.5 87.3 C492.62 83.75 492.08 79.13 492 77.5Z" fill="#00ffff" stroke="#000000" stroke-width="0.7"/>
<path d="M492 77.5 L492 77.5 C492.92 78.17 495.88 79.48 497.5 81.5 C499.12 83.52 501.2 87.1 501.7 89.6 C502.2 92.1 501.65 93.43 500.5 96.5 C499.35 99.57 496.92 104.35 494.8 108 C492.68 111.65 489.53 115.88 487.8 118.4 C486.07 120.92 484.97 122.32 484.4 123.1 L484.4 123.1 C484.97 120.98 486.65 114.45 487.8 110.4 C488.95 106.35 490.52 102.65 491.3 98.8 C492.08 94.95 492.38 90.85 492.5 87.3 C492.62 83.75 492.08 79.13 492 77.5Z" fill="#0078ff" stroke="#000000" stroke-width="0.7"/>
<path d="M548 90.8 L548 90.8 C543.35 92.72 527.63 99.03 520.1 102.3 C512.57 105.57 508.75 106.93 502.8 110.4 C496.85 113.87 487.47 120.98 484.4 123.1 L484.4 123.1 C487.47 121.55 496.85 116.5 502.8 113.8 C508.75 111.1 512.57 109.02 520.1 106.9 C527.63 104.78 543.35 102.07 548 101.1Z" fill="#00ff00" stroke="#000000" stroke-width="0.7"/>
<path d="M484.4 123.1L502.8 112.3L520.1 105.2L548 98.8" stroke="#e0e000" stroke-width="1.8" fill="none"/>
<path d="M484.4 123.1 L484.4 123.1 C487.47 121.55 496.85 116.5 502.8 113.8 C508.75 111.1 512.57 109.02 520.1 106.9 C527.63 104.78 543.35 102.07 548 101.1 L548 101.1 C548 103.83 548 114.77 548 117.5 L548 117.5 C543.35 117.65 527.63 117.87 520.1 118.4 C512.57 118.93 508.37 119.93 502.8 120.7 C497.23 121.47 489.38 122.62 486.7 123Z" fill="#ff0000" stroke="#000000" stroke-width="0.7"/>
<path d="M486.7 123 L502.8 120.7 L520.1 118.4 L548 117.5 L548 124.2 L520.1 124.6 L502.8 125.3Z" fill="#00ff00" stroke="#000000" stroke-width="0.7"/>
<path d="M488 123.4L502.8 121.6L520.1 119.8L548 119.4" stroke="#e0c000" stroke-width="1.6" fill="none"/>
<path d="M484.4 123.1 L484.4 123.1 C488.43 123.67 498 124.97 508.6 126.5 C519.2 128.03 541.43 131.33 548 132.3 L548 132.3 C548 134.75 551.88 144.55 548 147 C544.12 149.45 528.58 147 524.7 147 L524.7 147 C524.32 145.9 524.12 142.28 522.4 140.4 C520.68 138.52 518.62 137.43 514.4 135.7 C510.18 133.97 502.1 132.1 497.1 130 C492.1 127.9 486.52 124.25 484.4 123.1Z" fill="#00ffff" stroke="#000000" stroke-width="0.7"/>
<path d="M484.4 123.1 L484.4 123.1 C486.52 124.25 492.1 127.9 497.1 130 C502.1 132.1 510.18 133.97 514.4 135.7 C518.62 137.43 520.68 138.52 522.4 140.4 C524.12 142.28 524.32 145.9 524.7 147 L524.7 147 C520.1 147 501.7 147 497.1 147 L497.1 147 C496.13 145.5 493.23 140.83 491.3 138 C489.37 135.17 486.65 132.48 485.5 130 C484.35 127.52 484.58 124.25 484.4 123.1Z" fill="#0078ff" stroke="#000000" stroke-width="0.7"/>
<path d="M400 75.1H548" stroke="#000" stroke-width="0.9"/>
</g>
<rect x="402.1" y="5.3" width="144.4" height="140" fill="none" stroke="#222" stroke-width="1"/>
<path d="M402.3 145.3v2.6M459.98 145.3v2.6M517.66 145.3v2.6M431.14 145.3v1.6M488.82 145.3v1.6M546.5 145.3v1.6M402.1 131.2h-2.6M402.1 104.95h-2.6M402.1 78.7h-2.6M402.1 52.45h-2.6M402.1 26.2h-2.6M402.1 118.07h-1.6M402.1 91.82h-1.6M402.1 65.57h-1.6M402.1 39.32h-1.6M402.1 13.08h-1.6" stroke="#222" stroke-width="0.9" fill="none"/>
<text x="397.28" y="154.48" font-family="Liberation Sans" font-size="7.2" fill="#222">0.0</text>
<text x="455.01" y="154.48" font-family="Liberation Sans" font-size="7.2" fill="#222">0.2</text>
<text x="512.62" y="154.48" font-family="Liberation Sans" font-size="7.2" fill="#222">0.4</text>
<text transform="translate(380.29 132.78) scale(0.93 1)" font-family="Liberation Sans" font-size="6.9" fill="#222">15000</text>
<text transform="translate(380.29 106.53) scale(0.93 1)" font-family="Liberation Sans" font-size="6.9" fill="#222">16000</text>
<text transform="translate(380.29 80.28) scale(0.93 1)" font-family="Liberation Sans" font-size="6.9" fill="#222">17000</text>
<text transform="translate(380.29 54.03) scale(0.93 1)" font-family="Liberation Sans" font-size="6.9" fill="#222">18000</text>
<text transform="translate(380.29 27.78) scale(0.93 1)" font-family="Liberation Sans" font-size="6.9" fill="#222">19000</text>
<text x="374.22" y="118.82" font-family="Liberation Serif" font-size="14.03" fill="#111" transform="rotate(-90 374.22 118.82)">Frequency (Hz)</text>
<text x="338.44" y="22.04" font-family="Liberation Serif" font-size="16" fill="#111">(b)</text>
<text x="445.3" y="167.9" font-family="Liberation Serif" font-size="14.8" text-anchor="start" fill="#222">k</text>
<path d="M453.5 164.5v7.4M455.8 164.5v7.4" stroke="#444" stroke-width="1.3"/>
<text x="460.6" y="167.9" font-family="Liberation Serif" font-size="14.8" text-anchor="start" fill="#222">(mm)</text>
<text x="495.3" y="161.7" font-family="Liberation Serif" font-size="11.840000000000002" text-anchor="start" fill="#222">−1</text>
<rect x="552" y="18.2" width="8" height="11.78" fill="#ff0000"/>
<rect x="552" y="29.68" width="8" height="11.78" fill="#ff8000"/>
<rect x="552" y="41.16" width="8" height="11.78" fill="#ffff00"/>
<rect x="552" y="52.64" width="8" height="11.78" fill="#00ff00"/>
<rect x="552" y="64.12" width="8" height="11.78" fill="#00ff80"/>
<rect x="552" y="75.6" width="8" height="11.78" fill="#00ffff"/>
<rect x="552" y="87.08" width="8" height="11.78" fill="#0078ff"/>
<rect x="552" y="98.56" width="8" height="11.78" fill="#0000ff"/>
<rect x="552" y="110.04" width="8" height="11.78" fill="#000000"/>
<text x="561.12" y="21.8" font-family="Liberation Serif" font-size="9.55" fill="#111">≤ 2.00</text>
<text x="562.22" y="43.67" font-family="Liberation Sans" font-size="6.44" fill="#222">1.500</text>
<text x="562.22" y="67.07" font-family="Liberation Sans" font-size="6.44" fill="#222">1.000</text>
<text x="562.43" y="90.56" font-family="Liberation Sans" font-size="6.7" fill="#222">0.5000</text>
<text x="562.45" y="113.14" font-family="Liberation Sans" font-size="6.35" fill="#222">0.000</text>
<text x="563.88" y="134.21" font-family="Liberation Serif" font-size="14" fill="#111">|T|</text>
</g></svg></div></body></html>
